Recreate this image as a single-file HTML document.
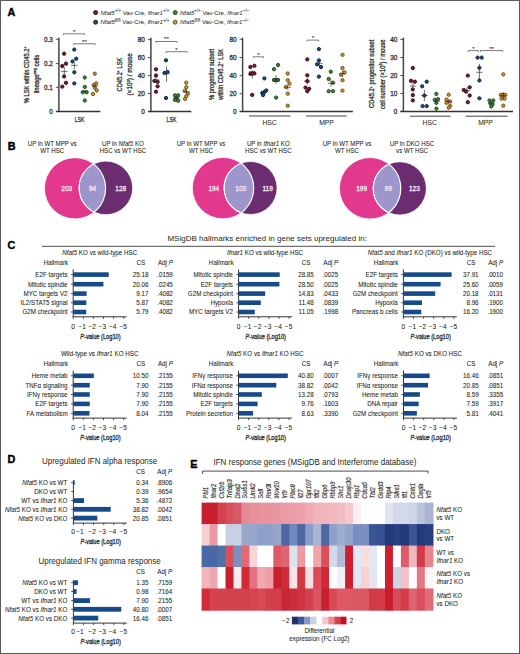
<!DOCTYPE html>
<html><head><meta charset="utf-8"><style>
html,body{margin:0;padding:0;background:#fff;}
svg{display:block;font-family:"Liberation Sans", sans-serif;}
text{stroke:#231f20;stroke-width:.06px;}
text.a{stroke:#333;stroke-width:.3px;}
text.w{stroke:none;}
text.p{stroke:#000;stroke-width:.4px;}
</style></head><body>
<svg width="520" height="654" viewBox="0 0 520 654">
<rect x="0.5" y="0.5" width="519" height="653" fill="#fff" stroke="#5a5a5a" stroke-width="1"/>
<text x="7.60" y="15.80" font-size="10.8" text-anchor="start" fill="#000" font-weight="bold" class="p">A</text>
<text x="7.80" y="149.60" font-size="10.8" text-anchor="start" fill="#000" font-weight="bold" class="p">B</text>
<text x="7.60" y="248.50" font-size="10.8" text-anchor="start" fill="#000" font-weight="bold" class="p">C</text>
<text x="7.60" y="462.90" font-size="10.8" text-anchor="start" fill="#000" font-weight="bold" class="p">D</text>
<text x="190.20" y="468.00" font-size="10.8" text-anchor="start" fill="#000" font-weight="bold" class="p">E</text>
<circle cx="95.6" cy="12.6" r="2.0" fill="#7d1a2c" stroke="#3a0812" stroke-width="0.95"/>
<text x="100.4" y="14.7" font-size="6.2" fill="#333" textLength="69" lengthAdjust="spacingAndGlyphs"><tspan font-style="italic">Nfat5</tspan><tspan font-size="4.6" dy="-2.5">+/+</tspan><tspan dy="2.5"> Vav-Cre, </tspan><tspan font-style="italic">Ifnar1</tspan><tspan font-size="4.6" dy="-2.5">+/+</tspan></text>
<circle cx="95.6" cy="22.2" r="2.0" fill="#1b4c80" stroke="#0b2440" stroke-width="0.95"/>
<text x="100.4" y="24.3" font-size="6.2" fill="#333" textLength="69" lengthAdjust="spacingAndGlyphs"><tspan font-style="italic">Nfat5</tspan><tspan font-size="4.6" dy="-2.5">fl/fl</tspan><tspan dy="2.5"> Vav-Cre, </tspan><tspan font-style="italic">Ifnar1</tspan><tspan font-size="4.6" dy="-2.5">+/+</tspan></text>
<circle cx="175.2" cy="12.6" r="2.0" fill="#3f8a3b" stroke="#1c451a" stroke-width="0.95"/>
<text x="180.0" y="14.7" font-size="6.2" fill="#333" textLength="69" lengthAdjust="spacingAndGlyphs"><tspan font-style="italic">Nfat5</tspan><tspan font-size="4.6" dy="-2.5">+/+</tspan><tspan dy="2.5"> Vav-Cre, </tspan><tspan font-style="italic">Ifnar1</tspan><tspan font-size="4.6" dy="-2.5">−/−</tspan></text>
<circle cx="175.2" cy="22.2" r="2.0" fill="#d09535" stroke="#6e4a12" stroke-width="0.95"/>
<text x="180.0" y="24.3" font-size="6.2" fill="#333" textLength="69" lengthAdjust="spacingAndGlyphs"><tspan font-style="italic">Nfat5</tspan><tspan font-size="4.6" dy="-2.5">fl/fl</tspan><tspan dy="2.5"> Vav-Cre, </tspan><tspan font-style="italic">Ifnar1</tspan><tspan font-size="4.6" dy="-2.5">−/−</tspan></text>
<line x1="58.9" y1="37.7" x2="58.9" y2="112.0" stroke="#444" stroke-width="1.5"/>
<line x1="55.9" y1="39.2" x2="58.9" y2="39.2" stroke="#3a3a3a" stroke-width="0.9"/>
<text x="52.90" y="41.50" font-size="6.4" text-anchor="end" fill="#333" class="a">0.3</text>
<line x1="55.9" y1="63.6" x2="58.9" y2="63.6" stroke="#3a3a3a" stroke-width="0.9"/>
<text x="52.90" y="65.90" font-size="6.4" text-anchor="end" fill="#333" class="a">0.2</text>
<line x1="55.9" y1="87.3" x2="58.9" y2="87.3" stroke="#3a3a3a" stroke-width="0.9"/>
<text x="52.90" y="89.60" font-size="6.4" text-anchor="end" fill="#333" class="a">0.1</text>
<line x1="55.9" y1="111.5" x2="58.9" y2="111.5" stroke="#3a3a3a" stroke-width="0.9"/>
<text x="52.90" y="113.80" font-size="6.4" text-anchor="end" fill="#333" class="a">0</text>
<line x1="56" y1="111.5" x2="100.4" y2="111.5" stroke="#333" stroke-width="1.3"/>
<text x="79.60" y="121.90" font-size="7.8" text-anchor="middle" fill="#231f20" textLength="9.80" lengthAdjust="spacingAndGlyphs" class="a">LSK</text>
<text transform="translate(28.6,74.8) rotate(-90)" font-size="7" class="a" text-anchor="middle" fill="#231f20" textLength="56.8" lengthAdjust="spacingAndGlyphs">% LSK within CD45.2<tspan font-size="4.4" dy="-2.6">+</tspan></text>
<text transform="translate(38.6,74.0) rotate(-90)" font-size="7" class="a" text-anchor="middle" fill="#231f20" textLength="38.5" lengthAdjust="spacingAndGlyphs">lineage<tspan font-size="4.4" dy="-2.6">neg</tspan><tspan dy="2.6"> cells</tspan></text>
<circle cx="64.1" cy="53.7" r="1.65" fill="#7d1a2c" stroke="#3a0812" stroke-width="0.95"/>
<circle cx="66.0" cy="63.6" r="1.65" fill="#7d1a2c" stroke="#3a0812" stroke-width="0.95"/>
<circle cx="62.3" cy="66.0" r="1.65" fill="#7d1a2c" stroke="#3a0812" stroke-width="0.95"/>
<circle cx="64.1" cy="76.4" r="1.65" fill="#7d1a2c" stroke="#3a0812" stroke-width="0.95"/>
<circle cx="66.0" cy="82.8" r="1.65" fill="#7d1a2c" stroke="#3a0812" stroke-width="0.95"/>
<circle cx="62.3" cy="86.6" r="1.65" fill="#7d1a2c" stroke="#3a0812" stroke-width="0.95"/>
<line x1="61.099999999999994" y1="71.6" x2="67.5" y2="71.6" stroke="#333" stroke-width="0.7"/>
<line x1="64.3" y1="67.3" x2="64.3" y2="75.9" stroke="#333" stroke-width="0.7"/>
<circle cx="74.3" cy="49.6" r="1.65" fill="#1b4c80" stroke="#0b2440" stroke-width="0.95"/>
<circle cx="76.2" cy="58.7" r="1.65" fill="#1b4c80" stroke="#0b2440" stroke-width="0.95"/>
<circle cx="72.5" cy="61.4" r="1.65" fill="#1b4c80" stroke="#0b2440" stroke-width="0.95"/>
<circle cx="74.3" cy="72.3" r="1.65" fill="#1b4c80" stroke="#0b2440" stroke-width="0.95"/>
<circle cx="74.3" cy="83.4" r="1.65" fill="#1b4c80" stroke="#0b2440" stroke-width="0.95"/>
<line x1="71.1" y1="65.4" x2="77.5" y2="65.4" stroke="#333" stroke-width="0.7"/>
<line x1="74.3" y1="62.5" x2="74.3" y2="69.4" stroke="#333" stroke-width="0.7"/>
<circle cx="84.8" cy="77.5" r="1.65" fill="#3f8a3b" stroke="#1c451a" stroke-width="0.95"/>
<circle cx="84.8" cy="86.9" r="1.65" fill="#3f8a3b" stroke="#1c451a" stroke-width="0.95"/>
<circle cx="82.8" cy="92.2" r="1.65" fill="#3f8a3b" stroke="#1c451a" stroke-width="0.95"/>
<circle cx="86.6" cy="92.2" r="1.65" fill="#3f8a3b" stroke="#1c451a" stroke-width="0.95"/>
<circle cx="84.8" cy="100.5" r="1.65" fill="#3f8a3b" stroke="#1c451a" stroke-width="0.95"/>
<line x1="81.6" y1="91.4" x2="88.0" y2="91.4" stroke="#333" stroke-width="0.7"/>
<line x1="84.8" y1="89.5" x2="84.8" y2="93.5" stroke="#333" stroke-width="0.7"/>
<circle cx="94.8" cy="73.7" r="1.65" fill="#d09535" stroke="#6e4a12" stroke-width="0.95"/>
<circle cx="96.2" cy="83.4" r="1.65" fill="#d09535" stroke="#6e4a12" stroke-width="0.95"/>
<circle cx="93.8" cy="85.0" r="1.65" fill="#d09535" stroke="#6e4a12" stroke-width="0.95"/>
<circle cx="94.8" cy="87.6" r="1.65" fill="#d09535" stroke="#6e4a12" stroke-width="0.95"/>
<circle cx="96.8" cy="90.5" r="1.65" fill="#d09535" stroke="#6e4a12" stroke-width="0.95"/>
<circle cx="93.0" cy="94.1" r="1.65" fill="#d09535" stroke="#6e4a12" stroke-width="0.95"/>
<line x1="91.8" y1="86" x2="98.2" y2="86" stroke="#333" stroke-width="0.7"/>
<line x1="95" y1="84" x2="95" y2="88" stroke="#333" stroke-width="0.7"/>
<path d="M63.5 35.099999999999994 V33.8 H84.6 V35.099999999999994" fill="none" stroke="#444" stroke-width="0.7"/>
<text x="74.05" y="33.70" font-size="6" text-anchor="middle" fill="#333" >*</text>
<path d="M73.7 45.099999999999994 V43.8 H95.2 V45.099999999999994" fill="none" stroke="#444" stroke-width="0.7"/>
<text x="84.45" y="43.70" font-size="6" text-anchor="middle" fill="#333" >**</text>
<line x1="150.9" y1="37.7" x2="150.9" y2="112.0" stroke="#444" stroke-width="1.5"/>
<line x1="147.9" y1="39.6" x2="150.9" y2="39.6" stroke="#3a3a3a" stroke-width="0.9"/>
<text x="144.90" y="41.90" font-size="6.4" text-anchor="end" fill="#333" class="a">80</text>
<line x1="147.9" y1="57.5" x2="150.9" y2="57.5" stroke="#3a3a3a" stroke-width="0.9"/>
<text x="144.90" y="59.80" font-size="6.4" text-anchor="end" fill="#333" class="a">60</text>
<line x1="147.9" y1="75.6" x2="150.9" y2="75.6" stroke="#3a3a3a" stroke-width="0.9"/>
<text x="144.90" y="77.90" font-size="6.4" text-anchor="end" fill="#333" class="a">40</text>
<line x1="147.9" y1="93.5" x2="150.9" y2="93.5" stroke="#3a3a3a" stroke-width="0.9"/>
<text x="144.90" y="95.80" font-size="6.4" text-anchor="end" fill="#333" class="a">20</text>
<line x1="147.9" y1="111.5" x2="150.9" y2="111.5" stroke="#3a3a3a" stroke-width="0.9"/>
<text x="144.90" y="113.80" font-size="6.4" text-anchor="end" fill="#333" class="a">0</text>
<line x1="148" y1="111.5" x2="191.3" y2="111.5" stroke="#333" stroke-width="1.3"/>
<text x="171.50" y="121.90" font-size="7.8" text-anchor="middle" fill="#231f20" textLength="9.80" lengthAdjust="spacingAndGlyphs" class="a">LSK</text>
<text transform="translate(122.0,74.6) rotate(-90)" font-size="7" class="a" text-anchor="middle" fill="#231f20" textLength="33.6" lengthAdjust="spacingAndGlyphs">CD45.2<tspan font-size="4.4" dy="-2.6">+</tspan><tspan dy="2.6"> LSK</tspan></text>
<text transform="translate(132.3,74.4) rotate(-90)" font-size="7" class="a" text-anchor="middle" fill="#231f20" textLength="42.3" lengthAdjust="spacingAndGlyphs">(×10<tspan font-size="4.4" dy="-2.6">3</tspan><tspan dy="2.6">) / mouse</tspan></text>
<circle cx="156.0" cy="69.3" r="1.65" fill="#7d1a2c" stroke="#3a0812" stroke-width="0.95"/>
<circle cx="156.0" cy="75.5" r="1.65" fill="#7d1a2c" stroke="#3a0812" stroke-width="0.95"/>
<circle cx="154.4" cy="80.9" r="1.65" fill="#7d1a2c" stroke="#3a0812" stroke-width="0.95"/>
<circle cx="157.6" cy="81.8" r="1.65" fill="#7d1a2c" stroke="#3a0812" stroke-width="0.95"/>
<circle cx="157.6" cy="86.3" r="1.65" fill="#7d1a2c" stroke="#3a0812" stroke-width="0.95"/>
<circle cx="156.0" cy="91.7" r="1.65" fill="#7d1a2c" stroke="#3a0812" stroke-width="0.95"/>
<line x1="153.0" y1="80.04375" x2="159.39999999999998" y2="80.04375" stroke="#333" stroke-width="0.7"/>
<line x1="156.2" y1="76.44874999999999" x2="156.2" y2="83.63875" stroke="#333" stroke-width="0.7"/>
<circle cx="166.0" cy="60.3" r="1.65" fill="#1b4c80" stroke="#0b2440" stroke-width="0.95"/>
<circle cx="167.5" cy="72.0" r="1.65" fill="#1b4c80" stroke="#0b2440" stroke-width="0.95"/>
<circle cx="164.5" cy="72.9" r="1.65" fill="#1b4c80" stroke="#0b2440" stroke-width="0.95"/>
<circle cx="166.0" cy="98.0" r="1.65" fill="#1b4c80" stroke="#0b2440" stroke-width="0.95"/>
<line x1="163.3" y1="73.7525" x2="169.7" y2="73.7525" stroke="#333" stroke-width="0.7"/>
<line x1="166.5" y1="66.5625" x2="166.5" y2="81.84125" stroke="#333" stroke-width="0.7"/>
<circle cx="174.9" cy="95.3" r="1.65" fill="#3f8a3b" stroke="#1c451a" stroke-width="0.95"/>
<circle cx="178.1" cy="95.3" r="1.65" fill="#3f8a3b" stroke="#1c451a" stroke-width="0.95"/>
<circle cx="176.5" cy="98.0" r="1.65" fill="#3f8a3b" stroke="#1c451a" stroke-width="0.95"/>
<circle cx="174.9" cy="99.8" r="1.65" fill="#3f8a3b" stroke="#1c451a" stroke-width="0.95"/>
<circle cx="178.1" cy="100.7" r="1.65" fill="#3f8a3b" stroke="#1c451a" stroke-width="0.95"/>
<line x1="173.3" y1="98.01875" x2="179.7" y2="98.01875" stroke="#333" stroke-width="0.7"/>
<line x1="176.5" y1="96.22125" x2="176.5" y2="99.81625" stroke="#333" stroke-width="0.7"/>
<circle cx="186.3" cy="82.7" r="1.65" fill="#d09535" stroke="#6e4a12" stroke-width="0.95"/>
<circle cx="186.3" cy="87.2" r="1.65" fill="#d09535" stroke="#6e4a12" stroke-width="0.95"/>
<circle cx="184.7" cy="90.8" r="1.65" fill="#d09535" stroke="#6e4a12" stroke-width="0.95"/>
<circle cx="187.9" cy="93.5" r="1.65" fill="#d09535" stroke="#6e4a12" stroke-width="0.95"/>
<circle cx="186.3" cy="96.2" r="1.65" fill="#d09535" stroke="#6e4a12" stroke-width="0.95"/>
<circle cx="185.1" cy="98.9" r="1.65" fill="#d09535" stroke="#6e4a12" stroke-width="0.95"/>
<line x1="183.10000000000002" y1="91.72749999999999" x2="189.5" y2="91.72749999999999" stroke="#333" stroke-width="0.7"/>
<line x1="186.3" y1="89.03125" x2="186.3" y2="94.42375" stroke="#333" stroke-width="0.7"/>
<path d="M155.8 42.8 V41.5 H177 V42.8" fill="none" stroke="#444" stroke-width="0.7"/>
<text x="166.40" y="41.40" font-size="6" text-anchor="middle" fill="#333" >**</text>
<path d="M166 53.0 V51.7 H187 V53.0" fill="none" stroke="#444" stroke-width="0.7"/>
<text x="176.50" y="51.60" font-size="6" text-anchor="middle" fill="#333" >*</text>
<line x1="242.6" y1="37.7" x2="242.6" y2="112.0" stroke="#444" stroke-width="1.5"/>
<line x1="239.6" y1="39.2" x2="242.6" y2="39.2" stroke="#3a3a3a" stroke-width="0.9"/>
<text x="236.60" y="41.50" font-size="6.4" text-anchor="end" fill="#333" class="a">80</text>
<line x1="239.6" y1="57.5" x2="242.6" y2="57.5" stroke="#3a3a3a" stroke-width="0.9"/>
<text x="236.60" y="59.80" font-size="6.4" text-anchor="end" fill="#333" class="a">60</text>
<line x1="239.6" y1="75.6" x2="242.6" y2="75.6" stroke="#3a3a3a" stroke-width="0.9"/>
<text x="236.60" y="77.90" font-size="6.4" text-anchor="end" fill="#333" class="a">40</text>
<line x1="239.6" y1="93.7" x2="242.6" y2="93.7" stroke="#3a3a3a" stroke-width="0.9"/>
<text x="236.60" y="96.00" font-size="6.4" text-anchor="end" fill="#333" class="a">20</text>
<line x1="239.6" y1="111.5" x2="242.6" y2="111.5" stroke="#3a3a3a" stroke-width="0.9"/>
<text x="236.60" y="113.80" font-size="6.4" text-anchor="end" fill="#333" class="a">0</text>
<line x1="239.7" y1="111.5" x2="352.8" y2="111.5" stroke="#333" stroke-width="1.3"/>
<line x1="249" y1="116" x2="290.4" y2="116" stroke="#444" stroke-width="1.0"/>
<line x1="306" y1="116" x2="346.7" y2="116" stroke="#444" stroke-width="1.0"/>
<text x="269.60" y="125.20" font-size="6.8" text-anchor="middle" fill="#333" >HSC</text>
<text x="326.50" y="125.20" font-size="6.8" text-anchor="middle" fill="#333" >MPP</text>
<text transform="translate(213.8,74.5) rotate(-90)" font-size="7" class="a" text-anchor="middle" fill="#231f20" textLength="51" lengthAdjust="spacingAndGlyphs">% progenitor subset</text>
<text transform="translate(223.0,74.3) rotate(-90)" font-size="7" class="a" text-anchor="middle" fill="#231f20" textLength="50.9" lengthAdjust="spacingAndGlyphs">within CD45.2<tspan font-size="4.4" dy="-2.6">+</tspan><tspan dy="2.6"> LSK</tspan></text>
<circle cx="250.4" cy="67.0" r="1.65" fill="#7d1a2c" stroke="#3a0812" stroke-width="0.95"/>
<circle cx="254.4" cy="65.8" r="1.65" fill="#7d1a2c" stroke="#3a0812" stroke-width="0.95"/>
<circle cx="250.4" cy="73.9" r="1.65" fill="#7d1a2c" stroke="#3a0812" stroke-width="0.95"/>
<circle cx="252.2" cy="73.5" r="1.65" fill="#7d1a2c" stroke="#3a0812" stroke-width="0.95"/>
<circle cx="254.4" cy="73.5" r="1.65" fill="#7d1a2c" stroke="#3a0812" stroke-width="0.95"/>
<circle cx="252.2" cy="94.9" r="1.65" fill="#7d1a2c" stroke="#3a0812" stroke-width="0.95"/>
<line x1="249.10000000000002" y1="71.7" x2="255.5" y2="71.7" stroke="#333" stroke-width="0.7"/>
<line x1="252.3" y1="70.5" x2="252.3" y2="78.4" stroke="#333" stroke-width="0.7"/>
<circle cx="264.4" cy="78.4" r="1.65" fill="#1b4c80" stroke="#0b2440" stroke-width="0.95"/>
<circle cx="262.3" cy="93.0" r="1.65" fill="#1b4c80" stroke="#0b2440" stroke-width="0.95"/>
<circle cx="264.5" cy="92.0" r="1.65" fill="#1b4c80" stroke="#0b2440" stroke-width="0.95"/>
<circle cx="266.3" cy="90.5" r="1.65" fill="#1b4c80" stroke="#0b2440" stroke-width="0.95"/>
<circle cx="263.0" cy="95.0" r="1.65" fill="#1b4c80" stroke="#0b2440" stroke-width="0.95"/>
<line x1="261.1" y1="91.5" x2="267.5" y2="91.5" stroke="#333" stroke-width="0.7"/>
<line x1="264.3" y1="89.5" x2="264.3" y2="94" stroke="#333" stroke-width="0.7"/>
<circle cx="274.0" cy="69.2" r="1.65" fill="#3f8a3b" stroke="#1c451a" stroke-width="0.95"/>
<circle cx="278.1" cy="65.0" r="1.65" fill="#3f8a3b" stroke="#1c451a" stroke-width="0.95"/>
<circle cx="274.0" cy="80.0" r="1.65" fill="#3f8a3b" stroke="#1c451a" stroke-width="0.95"/>
<circle cx="276.0" cy="80.0" r="1.65" fill="#3f8a3b" stroke="#1c451a" stroke-width="0.95"/>
<circle cx="278.0" cy="80.0" r="1.65" fill="#3f8a3b" stroke="#1c451a" stroke-width="0.95"/>
<circle cx="276.1" cy="97.6" r="1.65" fill="#3f8a3b" stroke="#1c451a" stroke-width="0.95"/>
<line x1="272.8" y1="80" x2="279.2" y2="80" stroke="#333" stroke-width="0.7"/>
<line x1="276" y1="75" x2="276" y2="84" stroke="#333" stroke-width="0.7"/>
<circle cx="287.7" cy="73.5" r="1.65" fill="#d09535" stroke="#6e4a12" stroke-width="0.95"/>
<circle cx="287.7" cy="80.2" r="1.65" fill="#d09535" stroke="#6e4a12" stroke-width="0.95"/>
<circle cx="289.5" cy="83.7" r="1.65" fill="#d09535" stroke="#6e4a12" stroke-width="0.95"/>
<circle cx="285.8" cy="87.0" r="1.65" fill="#d09535" stroke="#6e4a12" stroke-width="0.95"/>
<circle cx="287.7" cy="93.7" r="1.65" fill="#d09535" stroke="#6e4a12" stroke-width="0.95"/>
<circle cx="287.7" cy="105.7" r="1.65" fill="#d09535" stroke="#6e4a12" stroke-width="0.95"/>
<line x1="284.6" y1="87.3" x2="291.0" y2="87.3" stroke="#333" stroke-width="0.7"/>
<line x1="287.8" y1="85" x2="287.8" y2="90" stroke="#333" stroke-width="0.7"/>
<path d="M253.2 58.099999999999994 V56.8 H263.5 V58.099999999999994" fill="none" stroke="#444" stroke-width="0.7"/>
<text x="258.35" y="56.70" font-size="6" text-anchor="middle" fill="#333" >*</text>
<circle cx="307.3" cy="59.4" r="1.65" fill="#7d1a2c" stroke="#3a0812" stroke-width="0.95"/>
<circle cx="307.3" cy="75.3" r="1.65" fill="#7d1a2c" stroke="#3a0812" stroke-width="0.95"/>
<circle cx="307.3" cy="81.2" r="1.65" fill="#7d1a2c" stroke="#3a0812" stroke-width="0.95"/>
<circle cx="305.5" cy="87.6" r="1.65" fill="#7d1a2c" stroke="#3a0812" stroke-width="0.95"/>
<circle cx="309.2" cy="88.8" r="1.65" fill="#7d1a2c" stroke="#3a0812" stroke-width="0.95"/>
<circle cx="307.3" cy="91.2" r="1.65" fill="#7d1a2c" stroke="#3a0812" stroke-width="0.95"/>
<line x1="304.1" y1="81.2" x2="310.5" y2="81.2" stroke="#333" stroke-width="0.7"/>
<line x1="307.3" y1="78" x2="307.3" y2="84.5" stroke="#333" stroke-width="0.7"/>
<circle cx="318.9" cy="49.1" r="1.65" fill="#1b4c80" stroke="#0b2440" stroke-width="0.95"/>
<circle cx="318.9" cy="60.4" r="1.65" fill="#1b4c80" stroke="#0b2440" stroke-width="0.95"/>
<circle cx="317.1" cy="64.3" r="1.65" fill="#1b4c80" stroke="#0b2440" stroke-width="0.95"/>
<circle cx="321.0" cy="67.0" r="1.65" fill="#1b4c80" stroke="#0b2440" stroke-width="0.95"/>
<circle cx="318.9" cy="76.6" r="1.65" fill="#1b4c80" stroke="#0b2440" stroke-width="0.95"/>
<line x1="316.3" y1="63.4" x2="322.7" y2="63.4" stroke="#333" stroke-width="0.7"/>
<line x1="319.5" y1="60" x2="319.5" y2="66.5" stroke="#333" stroke-width="0.7"/>
<circle cx="330.8" cy="71.7" r="1.65" fill="#3f8a3b" stroke="#1c451a" stroke-width="0.95"/>
<circle cx="328.7" cy="79.0" r="1.65" fill="#3f8a3b" stroke="#1c451a" stroke-width="0.95"/>
<circle cx="333.0" cy="82.7" r="1.65" fill="#3f8a3b" stroke="#1c451a" stroke-width="0.95"/>
<circle cx="328.7" cy="91.2" r="1.65" fill="#3f8a3b" stroke="#1c451a" stroke-width="0.95"/>
<circle cx="333.0" cy="91.2" r="1.65" fill="#3f8a3b" stroke="#1c451a" stroke-width="0.95"/>
<line x1="327.8" y1="83.3" x2="334.2" y2="83.3" stroke="#333" stroke-width="0.7"/>
<line x1="331" y1="80" x2="331" y2="86.5" stroke="#333" stroke-width="0.7"/>
<circle cx="342.5" cy="54.8" r="1.65" fill="#d09535" stroke="#6e4a12" stroke-width="0.95"/>
<circle cx="342.5" cy="68.0" r="1.65" fill="#d09535" stroke="#6e4a12" stroke-width="0.95"/>
<circle cx="341.0" cy="74.7" r="1.65" fill="#d09535" stroke="#6e4a12" stroke-width="0.95"/>
<circle cx="344.6" cy="72.3" r="1.65" fill="#d09535" stroke="#6e4a12" stroke-width="0.95"/>
<circle cx="342.5" cy="80.2" r="1.65" fill="#d09535" stroke="#6e4a12" stroke-width="0.95"/>
<circle cx="342.5" cy="90.6" r="1.65" fill="#d09535" stroke="#6e4a12" stroke-width="0.95"/>
<line x1="339.5" y1="73.9" x2="345.9" y2="73.9" stroke="#333" stroke-width="0.7"/>
<line x1="342.7" y1="70.5" x2="342.7" y2="77" stroke="#333" stroke-width="0.7"/>
<path d="M307.1 41.4 V40.1 H318.6 V41.4" fill="none" stroke="#444" stroke-width="0.7"/>
<text x="312.85" y="40.00" font-size="6" text-anchor="middle" fill="#333" >*</text>
<line x1="403.4" y1="37.7" x2="403.4" y2="112.0" stroke="#444" stroke-width="1.5"/>
<line x1="400.4" y1="39.4" x2="403.4" y2="39.4" stroke="#3a3a3a" stroke-width="0.9"/>
<text x="397.40" y="41.70" font-size="6.4" text-anchor="end" fill="#333" class="a">40</text>
<line x1="400.4" y1="57.5" x2="403.4" y2="57.5" stroke="#3a3a3a" stroke-width="0.9"/>
<text x="397.40" y="59.80" font-size="6.4" text-anchor="end" fill="#333" class="a">30</text>
<line x1="400.4" y1="75.5" x2="403.4" y2="75.5" stroke="#3a3a3a" stroke-width="0.9"/>
<text x="397.40" y="77.80" font-size="6.4" text-anchor="end" fill="#333" class="a">20</text>
<line x1="400.4" y1="93.5" x2="403.4" y2="93.5" stroke="#3a3a3a" stroke-width="0.9"/>
<text x="397.40" y="95.80" font-size="6.4" text-anchor="end" fill="#333" class="a">10</text>
<line x1="400.4" y1="111.3" x2="403.4" y2="111.3" stroke="#3a3a3a" stroke-width="0.9"/>
<text x="397.40" y="113.60" font-size="6.4" text-anchor="end" fill="#333" class="a">0</text>
<line x1="400.4" y1="111.5" x2="513" y2="111.5" stroke="#333" stroke-width="1.3"/>
<line x1="410" y1="116.2" x2="450.5" y2="116.2" stroke="#444" stroke-width="1.0"/>
<line x1="465.6" y1="116.2" x2="507.7" y2="116.2" stroke="#444" stroke-width="1.0"/>
<text x="429.80" y="125.20" font-size="6.8" text-anchor="middle" fill="#333" >HSC</text>
<text x="485.50" y="125.20" font-size="6.8" text-anchor="middle" fill="#333" >MPP</text>
<text transform="translate(374.4,73.8) rotate(-90)" font-size="7" class="a" text-anchor="middle" fill="#231f20" textLength="68.4" lengthAdjust="spacingAndGlyphs">CD45.2<tspan font-size="4.4" dy="-2.6">+</tspan><tspan dy="2.6"> progenitor subset</tspan></text>
<text transform="translate(384.8,74.2) rotate(-90)" font-size="7" class="a" text-anchor="middle" fill="#231f20" textLength="69.6" lengthAdjust="spacingAndGlyphs">cell number (×10<tspan font-size="4.4" dy="-2.6">3</tspan><tspan dy="2.6">) / mouse</tspan></text>
<circle cx="412.8" cy="68.0" r="1.65" fill="#7d1a2c" stroke="#3a0812" stroke-width="0.95"/>
<circle cx="411.0" cy="80.8" r="1.65" fill="#7d1a2c" stroke="#3a0812" stroke-width="0.95"/>
<circle cx="414.9" cy="81.7" r="1.65" fill="#7d1a2c" stroke="#3a0812" stroke-width="0.95"/>
<circle cx="412.8" cy="89.4" r="1.65" fill="#7d1a2c" stroke="#3a0812" stroke-width="0.95"/>
<circle cx="412.8" cy="95.1" r="1.65" fill="#7d1a2c" stroke="#3a0812" stroke-width="0.95"/>
<circle cx="412.8" cy="100.4" r="1.65" fill="#7d1a2c" stroke="#3a0812" stroke-width="0.95"/>
<line x1="409.6" y1="86.1" x2="416.0" y2="86.1" stroke="#333" stroke-width="0.7"/>
<line x1="412.8" y1="83" x2="412.8" y2="89" stroke="#333" stroke-width="0.7"/>
<circle cx="426.7" cy="81.7" r="1.65" fill="#1b4c80" stroke="#0b2440" stroke-width="0.95"/>
<circle cx="422.2" cy="86.3" r="1.65" fill="#1b4c80" stroke="#0b2440" stroke-width="0.95"/>
<circle cx="424.4" cy="95.5" r="1.65" fill="#1b4c80" stroke="#0b2440" stroke-width="0.95"/>
<circle cx="422.6" cy="106.1" r="1.65" fill="#1b4c80" stroke="#0b2440" stroke-width="0.95"/>
<circle cx="426.7" cy="106.1" r="1.65" fill="#1b4c80" stroke="#0b2440" stroke-width="0.95"/>
<line x1="421.2" y1="95.5" x2="427.59999999999997" y2="95.5" stroke="#333" stroke-width="0.7"/>
<line x1="424.4" y1="90" x2="424.4" y2="101" stroke="#333" stroke-width="0.7"/>
<circle cx="436.4" cy="93.9" r="1.65" fill="#3f8a3b" stroke="#1c451a" stroke-width="0.95"/>
<circle cx="434.8" cy="99.8" r="1.65" fill="#3f8a3b" stroke="#1c451a" stroke-width="0.95"/>
<circle cx="438.1" cy="99.2" r="1.65" fill="#3f8a3b" stroke="#1c451a" stroke-width="0.95"/>
<circle cx="436.4" cy="102.8" r="1.65" fill="#3f8a3b" stroke="#1c451a" stroke-width="0.95"/>
<circle cx="436.4" cy="108.6" r="1.65" fill="#3f8a3b" stroke="#1c451a" stroke-width="0.95"/>
<line x1="433.2" y1="101" x2="439.59999999999997" y2="101" stroke="#333" stroke-width="0.7"/>
<line x1="436.4" y1="99" x2="436.4" y2="103" stroke="#333" stroke-width="0.7"/>
<circle cx="448.7" cy="94.7" r="1.65" fill="#d09535" stroke="#6e4a12" stroke-width="0.95"/>
<circle cx="446.5" cy="99.5" r="1.65" fill="#d09535" stroke="#6e4a12" stroke-width="0.95"/>
<circle cx="450.1" cy="101.6" r="1.65" fill="#d09535" stroke="#6e4a12" stroke-width="0.95"/>
<circle cx="446.5" cy="102.8" r="1.65" fill="#d09535" stroke="#6e4a12" stroke-width="0.95"/>
<circle cx="450.1" cy="105.9" r="1.65" fill="#d09535" stroke="#6e4a12" stroke-width="0.95"/>
<circle cx="448.7" cy="107.7" r="1.65" fill="#d09535" stroke="#6e4a12" stroke-width="0.95"/>
<line x1="445.3" y1="101.5" x2="451.7" y2="101.5" stroke="#333" stroke-width="0.7"/>
<line x1="448.5" y1="99.5" x2="448.5" y2="103.5" stroke="#333" stroke-width="0.7"/>
<circle cx="467.8" cy="75.6" r="1.65" fill="#7d1a2c" stroke="#3a0812" stroke-width="0.95"/>
<circle cx="469.7" cy="87.3" r="1.65" fill="#7d1a2c" stroke="#3a0812" stroke-width="0.95"/>
<circle cx="463.8" cy="90.0" r="1.65" fill="#7d1a2c" stroke="#3a0812" stroke-width="0.95"/>
<circle cx="466.0" cy="91.5" r="1.65" fill="#7d1a2c" stroke="#3a0812" stroke-width="0.95"/>
<circle cx="469.7" cy="95.5" r="1.65" fill="#7d1a2c" stroke="#3a0812" stroke-width="0.95"/>
<circle cx="467.8" cy="102.2" r="1.65" fill="#7d1a2c" stroke="#3a0812" stroke-width="0.95"/>
<line x1="463.8" y1="90.6" x2="470.2" y2="90.6" stroke="#333" stroke-width="0.7"/>
<line x1="467" y1="87.5" x2="467" y2="93.5" stroke="#333" stroke-width="0.7"/>
<circle cx="477.6" cy="57.6" r="1.65" fill="#1b4c80" stroke="#0b2440" stroke-width="0.95"/>
<circle cx="481.7" cy="57.6" r="1.65" fill="#1b4c80" stroke="#0b2440" stroke-width="0.95"/>
<circle cx="479.4" cy="67.8" r="1.65" fill="#1b4c80" stroke="#0b2440" stroke-width="0.95"/>
<circle cx="479.4" cy="80.5" r="1.65" fill="#1b4c80" stroke="#0b2440" stroke-width="0.95"/>
<circle cx="479.4" cy="98.3" r="1.65" fill="#1b4c80" stroke="#0b2440" stroke-width="0.95"/>
<line x1="476.2" y1="72.3" x2="482.59999999999997" y2="72.3" stroke="#333" stroke-width="0.7"/>
<line x1="479.4" y1="64" x2="479.4" y2="80" stroke="#333" stroke-width="0.7"/>
<circle cx="489.5" cy="100.5" r="1.65" fill="#3f8a3b" stroke="#1c451a" stroke-width="0.95"/>
<circle cx="493.3" cy="100.5" r="1.65" fill="#3f8a3b" stroke="#1c451a" stroke-width="0.95"/>
<circle cx="490.5" cy="103.5" r="1.65" fill="#3f8a3b" stroke="#1c451a" stroke-width="0.95"/>
<circle cx="492.5" cy="104.2" r="1.65" fill="#3f8a3b" stroke="#1c451a" stroke-width="0.95"/>
<circle cx="491.3" cy="106.5" r="1.65" fill="#3f8a3b" stroke="#1c451a" stroke-width="0.95"/>
<line x1="488.1" y1="103" x2="494.5" y2="103" stroke="#333" stroke-width="0.7"/>
<line x1="491.3" y1="101.5" x2="491.3" y2="104.5" stroke="#333" stroke-width="0.7"/>
<circle cx="503.3" cy="74.4" r="1.65" fill="#d09535" stroke="#6e4a12" stroke-width="0.95"/>
<circle cx="500.8" cy="94.9" r="1.65" fill="#d09535" stroke="#6e4a12" stroke-width="0.95"/>
<circle cx="503.2" cy="94.9" r="1.65" fill="#d09535" stroke="#6e4a12" stroke-width="0.95"/>
<circle cx="505.3" cy="94.9" r="1.65" fill="#d09535" stroke="#6e4a12" stroke-width="0.95"/>
<circle cx="501.5" cy="98.6" r="1.65" fill="#d09535" stroke="#6e4a12" stroke-width="0.95"/>
<circle cx="504.5" cy="98.6" r="1.65" fill="#d09535" stroke="#6e4a12" stroke-width="0.95"/>
<circle cx="503.3" cy="105.7" r="1.65" fill="#d09535" stroke="#6e4a12" stroke-width="0.95"/>
<line x1="500.1" y1="95.5" x2="506.5" y2="95.5" stroke="#333" stroke-width="0.7"/>
<line x1="503.3" y1="92" x2="503.3" y2="99" stroke="#333" stroke-width="0.7"/>
<path d="M468.2 51.9 V50.6 H478.5 V51.9" fill="none" stroke="#444" stroke-width="0.7"/>
<text x="473.35" y="50.50" font-size="6" text-anchor="middle" fill="#333" >*</text>
<path d="M480.4 51.9 V50.6 H502.7 V51.9" fill="none" stroke="#444" stroke-width="0.7"/>
<text x="491.55" y="50.50" font-size="6" text-anchor="middle" fill="#333" >**</text>
<circle cx="75.0" cy="188.3" r="30.6" fill="#e2388e" stroke="#fff" stroke-width="0.8"/>
<circle cx="105.9" cy="187.9" r="26.8" fill="#6b2d70" stroke="#fff" stroke-width="0.8"/>
<clipPath id="c75"><circle cx="75.0" cy="188.3" r="30.6"/></clipPath>
<circle cx="105.9" cy="187.9" r="26.8" fill="#9c96cc" clip-path="url(#c75)"/>
<circle cx="105.9" cy="187.9" r="26.8" fill="none" stroke="#fff" stroke-width="1.2" clip-path="url(#c75)"/>
<clipPath id="d75"><circle cx="105.9" cy="187.9" r="26.8"/></clipPath>
<circle cx="75.0" cy="188.3" r="30.6" fill="none" stroke="#fff" stroke-width="1.2" clip-path="url(#d75)"/>
<text transform="translate(66.70,190.80) scale(0.93,1)" x="0" y="0" font-size="7" text-anchor="middle" fill="#f5e8f0" style="stroke:#f5e8f0;stroke-width:.3px">203</text>
<text transform="translate(92.50,190.80) scale(0.93,1)" x="0" y="0" font-size="7" text-anchor="middle" fill="#f5e8f0" style="stroke:#f5e8f0;stroke-width:.3px">94</text>
<text transform="translate(120.70,190.80) scale(0.93,1)" x="0" y="0" font-size="7" text-anchor="middle" fill="#f5e8f0" style="stroke:#f5e8f0;stroke-width:.3px">128</text>
<text transform="translate(52.20,146.00) scale(0.93,1)" x="0" y="0" font-size="6.6" text-anchor="middle" fill="#231f20" >UP in WT MPP vs</text>
<text transform="translate(52.20,153.40) scale(0.93,1)" x="0" y="0" font-size="6.6" text-anchor="middle" fill="#231f20" >WT HSC</text>
<text transform="translate(122.90,146.00) scale(0.93,1)" x="0" y="0" font-size="6.6" text-anchor="middle" fill="#231f20" >UP in <tspan font-style="italic">Nfat5</tspan> KO</text>
<text transform="translate(122.90,153.40) scale(0.93,1)" x="0" y="0" font-size="6.6" text-anchor="middle" fill="#231f20" >HSC vs WT HSC</text>
<circle cx="223.0" cy="188.1" r="30.7" fill="#e2388e" stroke="#fff" stroke-width="0.8"/>
<circle cx="250.6" cy="188.0" r="26.5" fill="#6b2d70" stroke="#fff" stroke-width="0.8"/>
<clipPath id="c223"><circle cx="223.0" cy="188.1" r="30.7"/></clipPath>
<circle cx="250.6" cy="188.0" r="26.5" fill="#9c96cc" clip-path="url(#c223)"/>
<circle cx="250.6" cy="188.0" r="26.5" fill="none" stroke="#fff" stroke-width="1.2" clip-path="url(#c223)"/>
<clipPath id="d223"><circle cx="250.6" cy="188.0" r="26.5"/></clipPath>
<circle cx="223.0" cy="188.1" r="30.7" fill="none" stroke="#fff" stroke-width="1.2" clip-path="url(#d223)"/>
<text transform="translate(213.80,190.60) scale(0.93,1)" x="0" y="0" font-size="7" text-anchor="middle" fill="#f5e8f0" style="stroke:#f5e8f0;stroke-width:.3px">194</text>
<text transform="translate(240.70,190.60) scale(0.93,1)" x="0" y="0" font-size="7" text-anchor="middle" fill="#f5e8f0" style="stroke:#f5e8f0;stroke-width:.3px">103</text>
<text transform="translate(267.60,190.60) scale(0.93,1)" x="0" y="0" font-size="7" text-anchor="middle" fill="#f5e8f0" style="stroke:#f5e8f0;stroke-width:.3px">119</text>
<text transform="translate(201.00,146.00) scale(0.93,1)" x="0" y="0" font-size="6.6" text-anchor="middle" fill="#231f20" >UP in WT MPP vs</text>
<text transform="translate(201.00,153.40) scale(0.93,1)" x="0" y="0" font-size="6.6" text-anchor="middle" fill="#231f20" >WT HSC</text>
<text transform="translate(268.30,146.00) scale(0.93,1)" x="0" y="0" font-size="6.6" text-anchor="middle" fill="#231f20" >UP in <tspan font-style="italic">Ifnar1</tspan> KO</text>
<text transform="translate(268.30,153.40) scale(0.93,1)" x="0" y="0" font-size="6.6" text-anchor="middle" fill="#231f20" >HSC vs WT HSC</text>
<circle cx="370.1" cy="188.3" r="30.7" fill="#e2388e" stroke="#fff" stroke-width="0.8"/>
<circle cx="399.8" cy="188.4" r="26.6" fill="#6b2d70" stroke="#fff" stroke-width="0.8"/>
<clipPath id="c370"><circle cx="370.1" cy="188.3" r="30.7"/></clipPath>
<circle cx="399.8" cy="188.4" r="26.6" fill="#9c96cc" clip-path="url(#c370)"/>
<circle cx="399.8" cy="188.4" r="26.6" fill="none" stroke="#fff" stroke-width="1.2" clip-path="url(#c370)"/>
<clipPath id="d370"><circle cx="399.8" cy="188.4" r="26.6"/></clipPath>
<circle cx="370.1" cy="188.3" r="30.7" fill="none" stroke="#fff" stroke-width="1.2" clip-path="url(#d370)"/>
<text transform="translate(361.60,190.80) scale(0.93,1)" x="0" y="0" font-size="7" text-anchor="middle" fill="#f5e8f0" style="stroke:#f5e8f0;stroke-width:.3px">199</text>
<text transform="translate(388.20,190.80) scale(0.93,1)" x="0" y="0" font-size="7" text-anchor="middle" fill="#f5e8f0" style="stroke:#f5e8f0;stroke-width:.3px">99</text>
<text transform="translate(414.40,190.80) scale(0.93,1)" x="0" y="0" font-size="7" text-anchor="middle" fill="#f5e8f0" style="stroke:#f5e8f0;stroke-width:.3px">123</text>
<text transform="translate(347.00,146.00) scale(0.93,1)" x="0" y="0" font-size="6.6" text-anchor="middle" fill="#231f20" >UP in WT MPP vs</text>
<text transform="translate(347.00,153.40) scale(0.93,1)" x="0" y="0" font-size="6.6" text-anchor="middle" fill="#231f20" >WT HSC</text>
<text transform="translate(412.00,146.00) scale(0.93,1)" x="0" y="0" font-size="6.6" text-anchor="middle" fill="#231f20" >UP in DKO HSC</text>
<text transform="translate(412.00,153.40) scale(0.93,1)" x="0" y="0" font-size="6.6" text-anchor="middle" fill="#231f20" >vs WT HSC</text>
<text x="267.20" y="241.00" font-size="8.0" text-anchor="middle" fill="#231f20" textLength="199.50" lengthAdjust="spacingAndGlyphs" class="w">MSigDB hallmarks enriched in gene sets upregulated in:</text>
<line x1="42" y1="246.3" x2="495.2" y2="246.3" stroke="#231f20" stroke-width="0.8"/>
<text transform="translate(99.70,254.70) scale(0.985,1)" x="0" y="0" font-size="6.35" text-anchor="middle" fill="#231f20" ><tspan font-style="italic">Nfat5</tspan> KO vs wild-type HSC</text>
<text transform="translate(55.80,265.00) scale(0.985,1)" x="0" y="0" font-size="6.35" text-anchor="middle" fill="#231f20" >Hallmark</text>
<text transform="translate(140.80,265.00) scale(0.985,1)" x="0" y="0" font-size="6.35" text-anchor="middle" fill="#231f20" >CS</text>
<text transform="translate(165.40,265.00) scale(0.985,1)" x="0" y="0" font-size="6.35" text-anchor="middle" fill="#231f20" >Adj <tspan font-style="italic">P</tspan></text>
<line x1="73.2" y1="269.40000000000003" x2="73.2" y2="316.8" stroke="#231f20" stroke-width="0.9"/>
<line x1="72.75" y1="316.8" x2="126.7" y2="316.8" stroke="#231f20" stroke-width="0.9"/>
<line x1="73.2" y1="316.8" x2="73.2" y2="318.8" stroke="#231f20" stroke-width="0.8"/>
<text transform="translate(73.20,328.70) scale(0.985,1)" x="0" y="0" font-size="6.7" text-anchor="middle" fill="#231f20" >0</text>
<line x1="83.3" y1="316.8" x2="83.3" y2="318.8" stroke="#231f20" stroke-width="0.8"/>
<text transform="translate(82.20,328.70) scale(0.985,1)" x="0" y="0" font-size="6.7" text-anchor="middle" fill="#231f20" >−1</text>
<line x1="93.4" y1="316.8" x2="93.4" y2="318.8" stroke="#231f20" stroke-width="0.8"/>
<text transform="translate(92.20,328.70) scale(0.985,1)" x="0" y="0" font-size="6.7" text-anchor="middle" fill="#231f20" >−2</text>
<line x1="103.5" y1="316.8" x2="103.5" y2="318.8" stroke="#231f20" stroke-width="0.8"/>
<text transform="translate(102.30,328.70) scale(0.985,1)" x="0" y="0" font-size="6.7" text-anchor="middle" fill="#231f20" >−3</text>
<line x1="113.6" y1="316.8" x2="113.6" y2="318.8" stroke="#231f20" stroke-width="0.8"/>
<text transform="translate(112.70,328.70) scale(0.985,1)" x="0" y="0" font-size="6.7" text-anchor="middle" fill="#231f20" >−4</text>
<line x1="123.7" y1="316.8" x2="123.7" y2="318.8" stroke="#231f20" stroke-width="0.8"/>
<text transform="translate(123.20,328.70) scale(0.985,1)" x="0" y="0" font-size="6.7" text-anchor="middle" fill="#231f20" >−5</text>
<text x="100.4" y="339.20000000000005" font-size="6.7" text-anchor="middle" fill="#231f20" class="a" textLength="40.4" lengthAdjust="spacingAndGlyphs"><tspan font-style="italic">P</tspan>-value (Log10)</text>
<line x1="71.0" y1="274.6" x2="73.2" y2="274.6" stroke="#231f20" stroke-width="0.8"/>
<rect x="73.2" y="272.3" width="35.55" height="4.6" fill="#164a88"/>
<text transform="translate(67.60,277.00) scale(0.985,1)" x="0" y="0" font-size="6.35" text-anchor="end" fill="#231f20" >E2F targets</text>
<text transform="translate(148.40,277.00) scale(0.985,1)" x="0" y="0" font-size="6.35" text-anchor="end" fill="#231f20" >25.18</text>
<text transform="translate(157.20,277.00) scale(0.985,1)" x="0" y="0" font-size="6.35" text-anchor="start" fill="#231f20" >.0159</text>
<line x1="71.0" y1="284.2" x2="73.2" y2="284.2" stroke="#231f20" stroke-width="0.8"/>
<rect x="73.2" y="281.9" width="30.20" height="4.6" fill="#164a88"/>
<text transform="translate(67.60,286.60) scale(0.985,1)" x="0" y="0" font-size="6.35" text-anchor="end" fill="#231f20" >Mitotic spindle</text>
<text transform="translate(148.40,286.60) scale(0.985,1)" x="0" y="0" font-size="6.35" text-anchor="end" fill="#231f20" >20.06</text>
<text transform="translate(157.20,286.60) scale(0.985,1)" x="0" y="0" font-size="6.35" text-anchor="start" fill="#231f20" >.0245</text>
<line x1="71.0" y1="293.6" x2="73.2" y2="293.6" stroke="#231f20" stroke-width="0.8"/>
<rect x="73.2" y="291.3" width="13.43" height="4.6" fill="#164a88"/>
<text transform="translate(67.60,296.00) scale(0.985,1)" x="0" y="0" font-size="6.35" text-anchor="end" fill="#231f20" >MYC targets V2</text>
<text transform="translate(148.40,296.00) scale(0.985,1)" x="0" y="0" font-size="6.35" text-anchor="end" fill="#231f20" >9.17</text>
<text transform="translate(157.20,296.00) scale(0.985,1)" x="0" y="0" font-size="6.35" text-anchor="start" fill="#231f20" >.4082</text>
<line x1="71.0" y1="302.7" x2="73.2" y2="302.7" stroke="#231f20" stroke-width="0.8"/>
<rect x="73.2" y="300.4" width="13.13" height="4.6" fill="#164a88"/>
<text transform="translate(67.60,305.10) scale(0.985,1)" x="0" y="0" font-size="6.35" text-anchor="end" fill="#231f20" >IL2/STAT5 signal</text>
<text transform="translate(148.40,305.10) scale(0.985,1)" x="0" y="0" font-size="6.35" text-anchor="end" fill="#231f20" >5.87</text>
<text transform="translate(157.20,305.10) scale(0.985,1)" x="0" y="0" font-size="6.35" text-anchor="start" fill="#231f20" >.4082</text>
<line x1="71.0" y1="312.0" x2="73.2" y2="312.0" stroke="#231f20" stroke-width="0.8"/>
<rect x="73.2" y="309.7" width="13.03" height="4.6" fill="#164a88"/>
<text transform="translate(67.60,314.40) scale(0.985,1)" x="0" y="0" font-size="6.35" text-anchor="end" fill="#231f20" >G2M checkpoint</text>
<text transform="translate(148.40,314.40) scale(0.985,1)" x="0" y="0" font-size="6.35" text-anchor="end" fill="#231f20" >5.79</text>
<text transform="translate(157.20,314.40) scale(0.985,1)" x="0" y="0" font-size="6.35" text-anchor="start" fill="#231f20" >.4082</text>
<text transform="translate(265.10,254.70) scale(0.985,1)" x="0" y="0" font-size="6.35" text-anchor="middle" fill="#231f20" ><tspan font-style="italic">Ifnar1</tspan> KO vs wild-type HSC</text>
<text transform="translate(221.20,265.00) scale(0.985,1)" x="0" y="0" font-size="6.35" text-anchor="middle" fill="#231f20" >Hallmark</text>
<text transform="translate(306.20,265.00) scale(0.985,1)" x="0" y="0" font-size="6.35" text-anchor="middle" fill="#231f20" >CS</text>
<text transform="translate(330.80,265.00) scale(0.985,1)" x="0" y="0" font-size="6.35" text-anchor="middle" fill="#231f20" >Adj <tspan font-style="italic">P</tspan></text>
<line x1="238.6" y1="269.40000000000003" x2="238.6" y2="316.8" stroke="#231f20" stroke-width="0.9"/>
<line x1="238.15" y1="316.8" x2="292.1" y2="316.8" stroke="#231f20" stroke-width="0.9"/>
<line x1="238.6" y1="316.8" x2="238.6" y2="318.8" stroke="#231f20" stroke-width="0.8"/>
<text transform="translate(238.60,328.70) scale(0.985,1)" x="0" y="0" font-size="6.7" text-anchor="middle" fill="#231f20" >0</text>
<line x1="248.7" y1="316.8" x2="248.7" y2="318.8" stroke="#231f20" stroke-width="0.8"/>
<text transform="translate(247.60,328.70) scale(0.985,1)" x="0" y="0" font-size="6.7" text-anchor="middle" fill="#231f20" >−1</text>
<line x1="258.8" y1="316.8" x2="258.8" y2="318.8" stroke="#231f20" stroke-width="0.8"/>
<text transform="translate(257.60,328.70) scale(0.985,1)" x="0" y="0" font-size="6.7" text-anchor="middle" fill="#231f20" >−2</text>
<line x1="268.9" y1="316.8" x2="268.9" y2="318.8" stroke="#231f20" stroke-width="0.8"/>
<text transform="translate(267.70,328.70) scale(0.985,1)" x="0" y="0" font-size="6.7" text-anchor="middle" fill="#231f20" >−3</text>
<line x1="279.0" y1="316.8" x2="279.0" y2="318.8" stroke="#231f20" stroke-width="0.8"/>
<text transform="translate(278.10,328.70) scale(0.985,1)" x="0" y="0" font-size="6.7" text-anchor="middle" fill="#231f20" >−4</text>
<line x1="289.1" y1="316.8" x2="289.1" y2="318.8" stroke="#231f20" stroke-width="0.8"/>
<text transform="translate(288.60,328.70) scale(0.985,1)" x="0" y="0" font-size="6.7" text-anchor="middle" fill="#231f20" >−5</text>
<text x="265.8" y="339.20000000000005" font-size="6.7" text-anchor="middle" fill="#231f20" class="a" textLength="40.4" lengthAdjust="spacingAndGlyphs"><tspan font-style="italic">P</tspan>-value (Log10)</text>
<line x1="236.4" y1="274.6" x2="238.6" y2="274.6" stroke="#231f20" stroke-width="0.8"/>
<rect x="238.6" y="272.3" width="41.11" height="4.6" fill="#164a88"/>
<text transform="translate(233.00,277.00) scale(0.985,1)" x="0" y="0" font-size="6.35" text-anchor="end" fill="#231f20" >Mitotic spindle</text>
<text transform="translate(313.80,277.00) scale(0.985,1)" x="0" y="0" font-size="6.35" text-anchor="end" fill="#231f20" >28.85</text>
<text transform="translate(322.60,277.00) scale(0.985,1)" x="0" y="0" font-size="6.35" text-anchor="start" fill="#231f20" >.0025</text>
<line x1="236.4" y1="284.2" x2="238.6" y2="284.2" stroke="#231f20" stroke-width="0.8"/>
<rect x="238.6" y="281.9" width="40.80" height="4.6" fill="#164a88"/>
<text transform="translate(233.00,286.60) scale(0.985,1)" x="0" y="0" font-size="6.35" text-anchor="end" fill="#231f20" >E2F targets</text>
<text transform="translate(313.80,286.60) scale(0.985,1)" x="0" y="0" font-size="6.35" text-anchor="end" fill="#231f20" >28.50</text>
<text transform="translate(322.60,286.60) scale(0.985,1)" x="0" y="0" font-size="6.35" text-anchor="start" fill="#231f20" >.0025</text>
<line x1="236.4" y1="293.6" x2="238.6" y2="293.6" stroke="#231f20" stroke-width="0.8"/>
<rect x="238.6" y="291.3" width="26.56" height="4.6" fill="#164a88"/>
<text transform="translate(233.00,296.00) scale(0.985,1)" x="0" y="0" font-size="6.35" text-anchor="end" fill="#231f20" >G2M checkpoint</text>
<text transform="translate(313.80,296.00) scale(0.985,1)" x="0" y="0" font-size="6.35" text-anchor="end" fill="#231f20" >14.83</text>
<text transform="translate(322.60,296.00) scale(0.985,1)" x="0" y="0" font-size="6.35" text-anchor="start" fill="#231f20" >.0433</text>
<line x1="236.4" y1="302.7" x2="238.6" y2="302.7" stroke="#231f20" stroke-width="0.8"/>
<rect x="238.6" y="300.4" width="22.22" height="4.6" fill="#164a88"/>
<text transform="translate(233.00,305.10) scale(0.985,1)" x="0" y="0" font-size="6.35" text-anchor="end" fill="#231f20" >Hypoxia</text>
<text transform="translate(313.80,305.10) scale(0.985,1)" x="0" y="0" font-size="6.35" text-anchor="end" fill="#231f20" >11.48</text>
<text transform="translate(322.60,305.10) scale(0.985,1)" x="0" y="0" font-size="6.35" text-anchor="start" fill="#231f20" >.0839</text>
<line x1="236.4" y1="312.0" x2="238.6" y2="312.0" stroke="#231f20" stroke-width="0.8"/>
<rect x="238.6" y="309.7" width="16.16" height="4.6" fill="#164a88"/>
<text transform="translate(233.00,314.40) scale(0.985,1)" x="0" y="0" font-size="6.35" text-anchor="end" fill="#231f20" >MYC targets V2</text>
<text transform="translate(313.80,314.40) scale(0.985,1)" x="0" y="0" font-size="6.35" text-anchor="end" fill="#231f20" >11.05</text>
<text transform="translate(322.60,314.40) scale(0.985,1)" x="0" y="0" font-size="6.35" text-anchor="start" fill="#231f20" >.1998</text>
<text transform="translate(429.90,254.70) scale(0.985,1)" x="0" y="0" font-size="6.35" text-anchor="middle" fill="#231f20" ><tspan font-style="italic">Nfat5</tspan> and <tspan font-style="italic">Ifnar1</tspan> KO (DKO) vs wild-type HSC</text>
<text transform="translate(386.00,265.00) scale(0.985,1)" x="0" y="0" font-size="6.35" text-anchor="middle" fill="#231f20" >Hallmark</text>
<text transform="translate(471.00,265.00) scale(0.985,1)" x="0" y="0" font-size="6.35" text-anchor="middle" fill="#231f20" >CS</text>
<text transform="translate(495.60,265.00) scale(0.985,1)" x="0" y="0" font-size="6.35" text-anchor="middle" fill="#231f20" >Adj <tspan font-style="italic">P</tspan></text>
<line x1="403.4" y1="269.40000000000003" x2="403.4" y2="316.8" stroke="#231f20" stroke-width="0.9"/>
<line x1="402.95" y1="316.8" x2="456.9" y2="316.8" stroke="#231f20" stroke-width="0.9"/>
<line x1="403.4" y1="316.8" x2="403.4" y2="318.8" stroke="#231f20" stroke-width="0.8"/>
<text transform="translate(403.40,328.70) scale(0.985,1)" x="0" y="0" font-size="6.7" text-anchor="middle" fill="#231f20" >0</text>
<line x1="413.5" y1="316.8" x2="413.5" y2="318.8" stroke="#231f20" stroke-width="0.8"/>
<text transform="translate(412.40,328.70) scale(0.985,1)" x="0" y="0" font-size="6.7" text-anchor="middle" fill="#231f20" >−1</text>
<line x1="423.59999999999997" y1="316.8" x2="423.59999999999997" y2="318.8" stroke="#231f20" stroke-width="0.8"/>
<text transform="translate(422.40,328.70) scale(0.985,1)" x="0" y="0" font-size="6.7" text-anchor="middle" fill="#231f20" >−2</text>
<line x1="433.7" y1="316.8" x2="433.7" y2="318.8" stroke="#231f20" stroke-width="0.8"/>
<text transform="translate(432.50,328.70) scale(0.985,1)" x="0" y="0" font-size="6.7" text-anchor="middle" fill="#231f20" >−3</text>
<line x1="443.79999999999995" y1="316.8" x2="443.79999999999995" y2="318.8" stroke="#231f20" stroke-width="0.8"/>
<text transform="translate(442.90,328.70) scale(0.985,1)" x="0" y="0" font-size="6.7" text-anchor="middle" fill="#231f20" >−4</text>
<line x1="453.9" y1="316.8" x2="453.9" y2="318.8" stroke="#231f20" stroke-width="0.8"/>
<text transform="translate(453.40,328.70) scale(0.985,1)" x="0" y="0" font-size="6.7" text-anchor="middle" fill="#231f20" >−5</text>
<text x="430.59999999999997" y="339.20000000000005" font-size="6.7" text-anchor="middle" fill="#231f20" class="a" textLength="40.4" lengthAdjust="spacingAndGlyphs"><tspan font-style="italic">P</tspan>-value (Log10)</text>
<line x1="401.2" y1="274.6" x2="403.4" y2="274.6" stroke="#231f20" stroke-width="0.8"/>
<rect x="403.4" y="272.3" width="48.18" height="4.6" fill="#164a88"/>
<text transform="translate(397.80,277.00) scale(0.985,1)" x="0" y="0" font-size="6.35" text-anchor="end" fill="#231f20" >E2F targets</text>
<text transform="translate(478.60,277.00) scale(0.985,1)" x="0" y="0" font-size="6.35" text-anchor="end" fill="#231f20" >37.91</text>
<text transform="translate(487.40,277.00) scale(0.985,1)" x="0" y="0" font-size="6.35" text-anchor="start" fill="#231f20" >.0010</text>
<line x1="401.2" y1="284.2" x2="403.4" y2="284.2" stroke="#231f20" stroke-width="0.8"/>
<rect x="403.4" y="281.9" width="37.17" height="4.6" fill="#164a88"/>
<text transform="translate(397.80,286.60) scale(0.985,1)" x="0" y="0" font-size="6.35" text-anchor="end" fill="#231f20" >Mitotic spindle</text>
<text transform="translate(478.60,286.60) scale(0.985,1)" x="0" y="0" font-size="6.35" text-anchor="end" fill="#231f20" >25.60</text>
<text transform="translate(487.40,286.60) scale(0.985,1)" x="0" y="0" font-size="6.35" text-anchor="start" fill="#231f20" >.0059</text>
<line x1="401.2" y1="293.6" x2="403.4" y2="293.6" stroke="#231f20" stroke-width="0.8"/>
<rect x="403.4" y="291.3" width="31.81" height="4.6" fill="#164a88"/>
<text transform="translate(397.80,296.00) scale(0.985,1)" x="0" y="0" font-size="6.35" text-anchor="end" fill="#231f20" >G2M checkpoint</text>
<text transform="translate(478.60,296.00) scale(0.985,1)" x="0" y="0" font-size="6.35" text-anchor="end" fill="#231f20" >20.18</text>
<text transform="translate(487.40,296.00) scale(0.985,1)" x="0" y="0" font-size="6.35" text-anchor="start" fill="#231f20" >.0131</text>
<line x1="401.2" y1="302.7" x2="403.4" y2="302.7" stroke="#231f20" stroke-width="0.8"/>
<rect x="403.4" y="300.4" width="18.58" height="4.6" fill="#164a88"/>
<text transform="translate(397.80,305.10) scale(0.985,1)" x="0" y="0" font-size="6.35" text-anchor="end" fill="#231f20" >Hypoxia</text>
<text transform="translate(478.60,305.10) scale(0.985,1)" x="0" y="0" font-size="6.35" text-anchor="end" fill="#231f20" >8.96</text>
<text transform="translate(487.40,305.10) scale(0.985,1)" x="0" y="0" font-size="6.35" text-anchor="start" fill="#231f20" >.1900</text>
<line x1="401.2" y1="312.0" x2="403.4" y2="312.0" stroke="#231f20" stroke-width="0.8"/>
<rect x="403.4" y="309.7" width="17.88" height="4.6" fill="#164a88"/>
<text transform="translate(397.80,314.40) scale(0.985,1)" x="0" y="0" font-size="6.35" text-anchor="end" fill="#231f20" >Pancreas b cells</text>
<text transform="translate(478.60,314.40) scale(0.985,1)" x="0" y="0" font-size="6.35" text-anchor="end" fill="#231f20" >16.20</text>
<text transform="translate(487.40,314.40) scale(0.985,1)" x="0" y="0" font-size="6.35" text-anchor="start" fill="#231f20" >.1900</text>
<text transform="translate(99.70,355.90) scale(0.985,1)" x="0" y="0" font-size="6.35" text-anchor="middle" fill="#231f20" >Wild-type vs <tspan font-style="italic">Ifnar1</tspan> KO HSC</text>
<text transform="translate(55.80,366.20) scale(0.985,1)" x="0" y="0" font-size="6.35" text-anchor="middle" fill="#231f20" >Hallmark</text>
<text transform="translate(140.80,366.20) scale(0.985,1)" x="0" y="0" font-size="6.35" text-anchor="middle" fill="#231f20" >CS</text>
<text transform="translate(165.40,366.20) scale(0.985,1)" x="0" y="0" font-size="6.35" text-anchor="middle" fill="#231f20" >Adj <tspan font-style="italic">P</tspan></text>
<line x1="73.2" y1="370.6" x2="73.2" y2="418.1" stroke="#231f20" stroke-width="0.9"/>
<line x1="72.75" y1="418.1" x2="126.7" y2="418.1" stroke="#231f20" stroke-width="0.9"/>
<line x1="73.2" y1="418.1" x2="73.2" y2="420.1" stroke="#231f20" stroke-width="0.8"/>
<text transform="translate(73.20,429.90) scale(0.985,1)" x="0" y="0" font-size="6.7" text-anchor="middle" fill="#231f20" >0</text>
<line x1="83.3" y1="418.1" x2="83.3" y2="420.1" stroke="#231f20" stroke-width="0.8"/>
<text transform="translate(82.20,429.90) scale(0.985,1)" x="0" y="0" font-size="6.7" text-anchor="middle" fill="#231f20" >−1</text>
<line x1="93.4" y1="418.1" x2="93.4" y2="420.1" stroke="#231f20" stroke-width="0.8"/>
<text transform="translate(92.20,429.90) scale(0.985,1)" x="0" y="0" font-size="6.7" text-anchor="middle" fill="#231f20" >−2</text>
<line x1="103.5" y1="418.1" x2="103.5" y2="420.1" stroke="#231f20" stroke-width="0.8"/>
<text transform="translate(102.30,429.90) scale(0.985,1)" x="0" y="0" font-size="6.7" text-anchor="middle" fill="#231f20" >−3</text>
<line x1="113.6" y1="418.1" x2="113.6" y2="420.1" stroke="#231f20" stroke-width="0.8"/>
<text transform="translate(112.70,429.90) scale(0.985,1)" x="0" y="0" font-size="6.7" text-anchor="middle" fill="#231f20" >−4</text>
<line x1="123.7" y1="418.1" x2="123.7" y2="420.1" stroke="#231f20" stroke-width="0.8"/>
<text transform="translate(123.20,429.90) scale(0.985,1)" x="0" y="0" font-size="6.7" text-anchor="middle" fill="#231f20" >−5</text>
<text x="100.4" y="440.40000000000003" font-size="6.7" text-anchor="middle" fill="#231f20" class="a" textLength="40.4" lengthAdjust="spacingAndGlyphs"><tspan font-style="italic">P</tspan>-value (Log10)</text>
<line x1="71.0" y1="375.8" x2="73.2" y2="375.8" stroke="#231f20" stroke-width="0.8"/>
<rect x="73.2" y="373.5" width="20.60" height="4.6" fill="#164a88"/>
<text transform="translate(67.60,378.20) scale(0.985,1)" x="0" y="0" font-size="6.35" text-anchor="end" fill="#231f20" >Heme metab</text>
<text transform="translate(148.40,378.20) scale(0.985,1)" x="0" y="0" font-size="6.35" text-anchor="end" fill="#231f20" >10.50</text>
<text transform="translate(157.20,378.20) scale(0.985,1)" x="0" y="0" font-size="6.35" text-anchor="start" fill="#231f20" >.2155</text>
<line x1="71.0" y1="385.2" x2="73.2" y2="385.2" stroke="#231f20" stroke-width="0.8"/>
<rect x="73.2" y="382.9" width="16.56" height="4.6" fill="#164a88"/>
<text transform="translate(67.60,387.60) scale(0.985,1)" x="0" y="0" font-size="6.35" text-anchor="end" fill="#231f20" >TNFα signaling</text>
<text transform="translate(148.40,387.60) scale(0.985,1)" x="0" y="0" font-size="6.35" text-anchor="end" fill="#231f20" >7.90</text>
<text transform="translate(157.20,387.60) scale(0.985,1)" x="0" y="0" font-size="6.35" text-anchor="start" fill="#231f20" >.2155</text>
<line x1="71.0" y1="394.5" x2="73.2" y2="394.5" stroke="#231f20" stroke-width="0.8"/>
<rect x="73.2" y="392.2" width="16.56" height="4.6" fill="#164a88"/>
<text transform="translate(67.60,396.90) scale(0.985,1)" x="0" y="0" font-size="6.35" text-anchor="end" fill="#231f20" >IFNγ response</text>
<text transform="translate(148.40,396.90) scale(0.985,1)" x="0" y="0" font-size="6.35" text-anchor="end" fill="#231f20" >7.90</text>
<text transform="translate(157.20,396.90) scale(0.985,1)" x="0" y="0" font-size="6.35" text-anchor="start" fill="#231f20" >.2155</text>
<line x1="71.0" y1="403.9" x2="73.2" y2="403.9" stroke="#231f20" stroke-width="0.8"/>
<rect x="73.2" y="401.59999999999997" width="16.56" height="4.6" fill="#164a88"/>
<text transform="translate(67.60,406.30) scale(0.985,1)" x="0" y="0" font-size="6.35" text-anchor="end" fill="#231f20" >E2F targets</text>
<text transform="translate(148.40,406.30) scale(0.985,1)" x="0" y="0" font-size="6.35" text-anchor="end" fill="#231f20" >7.90</text>
<text transform="translate(157.20,406.30) scale(0.985,1)" x="0" y="0" font-size="6.35" text-anchor="start" fill="#231f20" >.2155</text>
<line x1="71.0" y1="413.3" x2="73.2" y2="413.3" stroke="#231f20" stroke-width="0.8"/>
<rect x="73.2" y="411.0" width="16.26" height="4.6" fill="#164a88"/>
<text transform="translate(67.60,415.70) scale(0.985,1)" x="0" y="0" font-size="6.35" text-anchor="end" fill="#231f20" >FA metabolism</text>
<text transform="translate(148.40,415.70) scale(0.985,1)" x="0" y="0" font-size="6.35" text-anchor="end" fill="#231f20" >8.04</text>
<text transform="translate(157.20,415.70) scale(0.985,1)" x="0" y="0" font-size="6.35" text-anchor="start" fill="#231f20" >.2155</text>
<text transform="translate(265.00,355.90) scale(0.985,1)" x="0" y="0" font-size="6.35" text-anchor="middle" fill="#231f20" ><tspan font-style="italic">Nfat5</tspan> KO vs <tspan font-style="italic">Ifnar1</tspan> KO HSC</text>
<text transform="translate(221.10,366.20) scale(0.985,1)" x="0" y="0" font-size="6.35" text-anchor="middle" fill="#231f20" >Hallmark</text>
<text transform="translate(306.10,366.20) scale(0.985,1)" x="0" y="0" font-size="6.35" text-anchor="middle" fill="#231f20" >CS</text>
<text transform="translate(330.70,366.20) scale(0.985,1)" x="0" y="0" font-size="6.35" text-anchor="middle" fill="#231f20" >Adj <tspan font-style="italic">P</tspan></text>
<line x1="238.5" y1="370.6" x2="238.5" y2="418.1" stroke="#231f20" stroke-width="0.9"/>
<line x1="238.05" y1="418.1" x2="292.0" y2="418.1" stroke="#231f20" stroke-width="0.9"/>
<line x1="238.5" y1="418.1" x2="238.5" y2="420.1" stroke="#231f20" stroke-width="0.8"/>
<text transform="translate(238.50,429.90) scale(0.985,1)" x="0" y="0" font-size="6.7" text-anchor="middle" fill="#231f20" >0</text>
<line x1="248.6" y1="418.1" x2="248.6" y2="420.1" stroke="#231f20" stroke-width="0.8"/>
<text transform="translate(247.50,429.90) scale(0.985,1)" x="0" y="0" font-size="6.7" text-anchor="middle" fill="#231f20" >−1</text>
<line x1="258.7" y1="418.1" x2="258.7" y2="420.1" stroke="#231f20" stroke-width="0.8"/>
<text transform="translate(257.50,429.90) scale(0.985,1)" x="0" y="0" font-size="6.7" text-anchor="middle" fill="#231f20" >−2</text>
<line x1="268.8" y1="418.1" x2="268.8" y2="420.1" stroke="#231f20" stroke-width="0.8"/>
<text transform="translate(267.60,429.90) scale(0.985,1)" x="0" y="0" font-size="6.7" text-anchor="middle" fill="#231f20" >−3</text>
<line x1="278.9" y1="418.1" x2="278.9" y2="420.1" stroke="#231f20" stroke-width="0.8"/>
<text transform="translate(278.00,429.90) scale(0.985,1)" x="0" y="0" font-size="6.7" text-anchor="middle" fill="#231f20" >−4</text>
<line x1="289.0" y1="418.1" x2="289.0" y2="420.1" stroke="#231f20" stroke-width="0.8"/>
<text transform="translate(288.50,429.90) scale(0.985,1)" x="0" y="0" font-size="6.7" text-anchor="middle" fill="#231f20" >−5</text>
<text x="265.7" y="440.40000000000003" font-size="6.7" text-anchor="middle" fill="#231f20" class="a" textLength="40.4" lengthAdjust="spacingAndGlyphs"><tspan font-style="italic">P</tspan>-value (Log10)</text>
<line x1="236.3" y1="375.8" x2="238.5" y2="375.8" stroke="#231f20" stroke-width="0.8"/>
<rect x="238.5" y="373.5" width="49.29" height="4.6" fill="#164a88"/>
<text transform="translate(232.90,378.20) scale(0.985,1)" x="0" y="0" font-size="6.35" text-anchor="end" fill="#231f20" >IFNγ response</text>
<text transform="translate(313.70,378.20) scale(0.985,1)" x="0" y="0" font-size="6.35" text-anchor="end" fill="#231f20" >40.80</text>
<text transform="translate(322.50,378.20) scale(0.985,1)" x="0" y="0" font-size="6.35" text-anchor="start" fill="#231f20" >.0007</text>
<line x1="236.3" y1="385.2" x2="238.5" y2="385.2" stroke="#231f20" stroke-width="0.8"/>
<rect x="238.5" y="382.9" width="37.77" height="4.6" fill="#164a88"/>
<text transform="translate(232.90,387.60) scale(0.985,1)" x="0" y="0" font-size="6.35" text-anchor="end" fill="#231f20" >IFNα response</text>
<text transform="translate(313.70,387.60) scale(0.985,1)" x="0" y="0" font-size="6.35" text-anchor="end" fill="#231f20" >38.82</text>
<text transform="translate(322.50,387.60) scale(0.985,1)" x="0" y="0" font-size="6.35" text-anchor="start" fill="#231f20" >.0042</text>
<line x1="236.3" y1="394.5" x2="238.5" y2="394.5" stroke="#231f20" stroke-width="0.8"/>
<rect x="238.5" y="392.2" width="23.33" height="4.6" fill="#164a88"/>
<text transform="translate(232.90,396.90) scale(0.985,1)" x="0" y="0" font-size="6.35" text-anchor="end" fill="#231f20" >Mitotic spindle</text>
<text transform="translate(313.70,396.90) scale(0.985,1)" x="0" y="0" font-size="6.35" text-anchor="end" fill="#231f20" >13.28</text>
<text transform="translate(322.50,396.90) scale(0.985,1)" x="0" y="0" font-size="6.35" text-anchor="start" fill="#231f20" >.0793</text>
<line x1="236.3" y1="403.9" x2="238.5" y2="403.9" stroke="#231f20" stroke-width="0.8"/>
<rect x="238.5" y="401.59999999999997" width="19.09" height="4.6" fill="#164a88"/>
<text transform="translate(232.90,406.30) scale(0.985,1)" x="0" y="0" font-size="6.35" text-anchor="end" fill="#231f20" >E2F targets</text>
<text transform="translate(313.70,406.30) scale(0.985,1)" x="0" y="0" font-size="6.35" text-anchor="end" fill="#231f20" >9.76</text>
<text transform="translate(322.50,406.30) scale(0.985,1)" x="0" y="0" font-size="6.35" text-anchor="start" fill="#231f20" >.1603</text>
<line x1="236.3" y1="413.3" x2="238.5" y2="413.3" stroke="#231f20" stroke-width="0.8"/>
<rect x="238.5" y="411.0" width="14.54" height="4.6" fill="#164a88"/>
<text transform="translate(232.90,415.70) scale(0.985,1)" x="0" y="0" font-size="6.35" text-anchor="end" fill="#231f20" >Protein secretion</text>
<text transform="translate(313.70,415.70) scale(0.985,1)" x="0" y="0" font-size="6.35" text-anchor="end" fill="#231f20" >8.63</text>
<text transform="translate(322.50,415.70) scale(0.985,1)" x="0" y="0" font-size="6.35" text-anchor="start" fill="#231f20" >.3390</text>
<text transform="translate(430.00,355.90) scale(0.985,1)" x="0" y="0" font-size="6.35" text-anchor="middle" fill="#231f20" ><tspan font-style="italic">Nfat5</tspan> KO vs DKO HSC</text>
<text transform="translate(386.10,366.20) scale(0.985,1)" x="0" y="0" font-size="6.35" text-anchor="middle" fill="#231f20" >Hallmark</text>
<text transform="translate(471.10,366.20) scale(0.985,1)" x="0" y="0" font-size="6.35" text-anchor="middle" fill="#231f20" >CS</text>
<text transform="translate(495.70,366.20) scale(0.985,1)" x="0" y="0" font-size="6.35" text-anchor="middle" fill="#231f20" >Adj <tspan font-style="italic">P</tspan></text>
<line x1="403.5" y1="370.6" x2="403.5" y2="418.1" stroke="#231f20" stroke-width="0.9"/>
<line x1="403.05" y1="418.1" x2="457.0" y2="418.1" stroke="#231f20" stroke-width="0.9"/>
<line x1="403.5" y1="418.1" x2="403.5" y2="420.1" stroke="#231f20" stroke-width="0.8"/>
<text transform="translate(403.50,429.90) scale(0.985,1)" x="0" y="0" font-size="6.7" text-anchor="middle" fill="#231f20" >0</text>
<line x1="413.6" y1="418.1" x2="413.6" y2="420.1" stroke="#231f20" stroke-width="0.8"/>
<text transform="translate(412.50,429.90) scale(0.985,1)" x="0" y="0" font-size="6.7" text-anchor="middle" fill="#231f20" >−1</text>
<line x1="423.7" y1="418.1" x2="423.7" y2="420.1" stroke="#231f20" stroke-width="0.8"/>
<text transform="translate(422.50,429.90) scale(0.985,1)" x="0" y="0" font-size="6.7" text-anchor="middle" fill="#231f20" >−2</text>
<line x1="433.8" y1="418.1" x2="433.8" y2="420.1" stroke="#231f20" stroke-width="0.8"/>
<text transform="translate(432.60,429.90) scale(0.985,1)" x="0" y="0" font-size="6.7" text-anchor="middle" fill="#231f20" >−3</text>
<line x1="443.9" y1="418.1" x2="443.9" y2="420.1" stroke="#231f20" stroke-width="0.8"/>
<text transform="translate(443.00,429.90) scale(0.985,1)" x="0" y="0" font-size="6.7" text-anchor="middle" fill="#231f20" >−4</text>
<line x1="454.0" y1="418.1" x2="454.0" y2="420.1" stroke="#231f20" stroke-width="0.8"/>
<text transform="translate(453.50,429.90) scale(0.985,1)" x="0" y="0" font-size="6.7" text-anchor="middle" fill="#231f20" >−5</text>
<text x="430.7" y="440.40000000000003" font-size="6.7" text-anchor="middle" fill="#231f20" class="a" textLength="40.4" lengthAdjust="spacingAndGlyphs"><tspan font-style="italic">P</tspan>-value (Log10)</text>
<line x1="401.3" y1="375.8" x2="403.5" y2="375.8" stroke="#231f20" stroke-width="0.8"/>
<rect x="403.5" y="373.5" width="26.16" height="4.6" fill="#164a88"/>
<text transform="translate(397.90,378.20) scale(0.985,1)" x="0" y="0" font-size="6.35" text-anchor="end" fill="#231f20" >IFNγ response</text>
<text transform="translate(478.70,378.20) scale(0.985,1)" x="0" y="0" font-size="6.35" text-anchor="end" fill="#231f20" >16.46</text>
<text transform="translate(487.50,378.20) scale(0.985,1)" x="0" y="0" font-size="6.35" text-anchor="start" fill="#231f20" >.0851</text>
<line x1="401.3" y1="385.2" x2="403.5" y2="385.2" stroke="#231f20" stroke-width="0.8"/>
<rect x="403.5" y="382.9" width="24.54" height="4.6" fill="#164a88"/>
<text transform="translate(397.90,387.60) scale(0.985,1)" x="0" y="0" font-size="6.35" text-anchor="end" fill="#231f20" >IFNα response</text>
<text transform="translate(478.70,387.60) scale(0.985,1)" x="0" y="0" font-size="6.35" text-anchor="end" fill="#231f20" >20.85</text>
<text transform="translate(487.50,387.60) scale(0.985,1)" x="0" y="0" font-size="6.35" text-anchor="start" fill="#231f20" >.0851</text>
<line x1="401.3" y1="394.5" x2="403.5" y2="394.5" stroke="#231f20" stroke-width="0.8"/>
<rect x="403.5" y="392.2" width="16.36" height="4.6" fill="#164a88"/>
<text transform="translate(397.90,396.90) scale(0.985,1)" x="0" y="0" font-size="6.35" text-anchor="end" fill="#231f20" >Heme metab</text>
<text transform="translate(478.70,396.90) scale(0.985,1)" x="0" y="0" font-size="6.35" text-anchor="end" fill="#231f20" >8.59</text>
<text transform="translate(487.50,396.90) scale(0.985,1)" x="0" y="0" font-size="6.35" text-anchor="start" fill="#231f20" >.3355</text>
<line x1="401.3" y1="403.9" x2="403.5" y2="403.9" stroke="#231f20" stroke-width="0.8"/>
<rect x="403.5" y="401.59999999999997" width="15.15" height="4.6" fill="#164a88"/>
<text transform="translate(397.90,406.30) scale(0.985,1)" x="0" y="0" font-size="6.35" text-anchor="end" fill="#231f20" >DNA repair</text>
<text transform="translate(478.70,406.30) scale(0.985,1)" x="0" y="0" font-size="6.35" text-anchor="end" fill="#231f20" >7.59</text>
<text transform="translate(487.50,406.30) scale(0.985,1)" x="0" y="0" font-size="6.35" text-anchor="start" fill="#231f20" >.3917</text>
<line x1="401.3" y1="413.3" x2="403.5" y2="413.3" stroke="#231f20" stroke-width="0.8"/>
<rect x="403.5" y="411.0" width="13.33" height="4.6" fill="#164a88"/>
<text transform="translate(397.90,415.70) scale(0.985,1)" x="0" y="0" font-size="6.35" text-anchor="end" fill="#231f20" >G2M checkpoint</text>
<text transform="translate(478.70,415.70) scale(0.985,1)" x="0" y="0" font-size="6.35" text-anchor="end" fill="#231f20" >5.81</text>
<text transform="translate(487.50,415.70) scale(0.985,1)" x="0" y="0" font-size="6.35" text-anchor="start" fill="#231f20" >.4041</text>
<text x="99.60" y="463.80" font-size="8.6" text-anchor="middle" fill="#231f20" textLength="115.20" lengthAdjust="spacingAndGlyphs" class="w">Upregulated IFN alpha response</text>
<text transform="translate(140.60,474.00) scale(0.985,1)" x="0" y="0" font-size="6.35" text-anchor="middle" fill="#231f20" >CS</text>
<text transform="translate(164.80,474.00) scale(0.985,1)" x="0" y="0" font-size="6.35" text-anchor="middle" fill="#231f20" >Adj <tspan font-style="italic">P</tspan></text>
<line x1="73.4" y1="480.2" x2="73.4" y2="523.1" stroke="#231f20" stroke-width="0.9"/>
<line x1="72.95" y1="523.1" x2="126.9" y2="523.1" stroke="#231f20" stroke-width="0.9"/>
<line x1="73.4" y1="523.1" x2="73.4" y2="525.1" stroke="#231f20" stroke-width="0.8"/>
<text transform="translate(73.10,534.10) scale(0.985,1)" x="0" y="0" font-size="6.7" text-anchor="middle" fill="#231f20" >0</text>
<line x1="83.5" y1="523.1" x2="83.5" y2="525.1" stroke="#231f20" stroke-width="0.8"/>
<text transform="translate(80.00,534.10) scale(0.985,1)" x="0" y="0" font-size="6.7" text-anchor="middle" fill="#231f20" >−1</text>
<line x1="93.60000000000001" y1="523.1" x2="93.60000000000001" y2="525.1" stroke="#231f20" stroke-width="0.8"/>
<text transform="translate(92.10,534.10) scale(0.985,1)" x="0" y="0" font-size="6.7" text-anchor="middle" fill="#231f20" >−2</text>
<line x1="103.7" y1="523.1" x2="103.7" y2="525.1" stroke="#231f20" stroke-width="0.8"/>
<text transform="translate(102.20,534.10) scale(0.985,1)" x="0" y="0" font-size="6.7" text-anchor="middle" fill="#231f20" >−3</text>
<line x1="113.80000000000001" y1="523.1" x2="113.80000000000001" y2="525.1" stroke="#231f20" stroke-width="0.8"/>
<text transform="translate(112.40,534.10) scale(0.985,1)" x="0" y="0" font-size="6.7" text-anchor="middle" fill="#231f20" >−4</text>
<line x1="123.9" y1="523.1" x2="123.9" y2="525.1" stroke="#231f20" stroke-width="0.8"/>
<text transform="translate(123.30,534.10) scale(0.985,1)" x="0" y="0" font-size="6.7" text-anchor="middle" fill="#231f20" >−5</text>
<text x="100.60000000000001" y="543.8000000000001" font-size="6.7" text-anchor="middle" fill="#231f20" class="a" textLength="40.4" lengthAdjust="spacingAndGlyphs"><tspan font-style="italic">P</tspan>-value (Log10)</text>
<line x1="71.2" y1="482.7" x2="73.4" y2="482.7" stroke="#231f20" stroke-width="0.8"/>
<rect x="73.4" y="480.3" width="1.31" height="4.8" fill="#164a88"/>
<text transform="translate(67.30,485.10) scale(0.985,1)" x="0" y="0" font-size="6.35" text-anchor="end" fill="#231f20" ><tspan font-style="italic">Nfat5</tspan> KO vs WT</text>
<text transform="translate(148.40,485.10) scale(0.985,1)" x="0" y="0" font-size="6.35" text-anchor="end" fill="#231f20" >0.34</text>
<text transform="translate(156.50,485.10) scale(0.985,1)" x="0" y="0" font-size="6.35" text-anchor="start" fill="#231f20" >.8906</text>
<line x1="71.2" y1="491.5" x2="73.4" y2="491.5" stroke="#231f20" stroke-width="0.8"/>
<rect x="73.4" y="489.1" width="0.40" height="4.8" fill="#164a88"/>
<text transform="translate(67.30,493.90) scale(0.985,1)" x="0" y="0" font-size="6.35" text-anchor="end" fill="#231f20" >DKO vs WT</text>
<text transform="translate(148.40,493.90) scale(0.985,1)" x="0" y="0" font-size="6.35" text-anchor="end" fill="#231f20" >0.39</text>
<text transform="translate(156.50,493.90) scale(0.985,1)" x="0" y="0" font-size="6.35" text-anchor="start" fill="#231f20" >.9654</text>
<line x1="71.2" y1="500.6" x2="73.4" y2="500.6" stroke="#231f20" stroke-width="0.8"/>
<rect x="73.4" y="498.20000000000005" width="10.61" height="4.8" fill="#164a88"/>
<text transform="translate(67.30,503.00) scale(0.985,1)" x="0" y="0" font-size="6.35" text-anchor="end" fill="#231f20" >WT vs <tspan font-style="italic">Ifnar1</tspan> KO</text>
<text transform="translate(148.40,503.00) scale(0.985,1)" x="0" y="0" font-size="6.35" text-anchor="end" fill="#231f20" >5.36</text>
<text transform="translate(156.50,503.00) scale(0.985,1)" x="0" y="0" font-size="6.35" text-anchor="start" fill="#231f20" >.4872</text>
<line x1="71.2" y1="509.3" x2="73.4" y2="509.3" stroke="#231f20" stroke-width="0.8"/>
<rect x="73.4" y="506.90000000000003" width="37.27" height="4.8" fill="#164a88"/>
<text transform="translate(67.30,511.70) scale(0.985,1)" x="0" y="0" font-size="6.35" text-anchor="end" fill="#231f20" ><tspan font-style="italic">Nfat5</tspan> KO vs <tspan font-style="italic">Ifnar1</tspan> KO</text>
<text transform="translate(148.40,511.70) scale(0.985,1)" x="0" y="0" font-size="6.35" text-anchor="end" fill="#231f20" >38.82</text>
<text transform="translate(156.50,511.70) scale(0.985,1)" x="0" y="0" font-size="6.35" text-anchor="start" fill="#231f20" >.0042</text>
<line x1="71.2" y1="518.1" x2="73.4" y2="518.1" stroke="#231f20" stroke-width="0.8"/>
<rect x="73.4" y="515.7" width="23.94" height="4.8" fill="#164a88"/>
<text transform="translate(67.30,520.50) scale(0.985,1)" x="0" y="0" font-size="6.35" text-anchor="end" fill="#231f20" ><tspan font-style="italic">Nfat5</tspan> KO vs DKO</text>
<text transform="translate(148.40,520.50) scale(0.985,1)" x="0" y="0" font-size="6.35" text-anchor="end" fill="#231f20" >20.85</text>
<text transform="translate(156.50,520.50) scale(0.985,1)" x="0" y="0" font-size="6.35" text-anchor="start" fill="#231f20" >.0851</text>
<text x="99.60" y="563.80" font-size="8.6" text-anchor="middle" fill="#231f20" textLength="122.20" lengthAdjust="spacingAndGlyphs" class="w">Upregulated IFN gamma response</text>
<text transform="translate(140.60,574.00) scale(0.985,1)" x="0" y="0" font-size="6.35" text-anchor="middle" fill="#231f20" >CS</text>
<text transform="translate(164.80,574.00) scale(0.985,1)" x="0" y="0" font-size="6.35" text-anchor="middle" fill="#231f20" >Adj <tspan font-style="italic">P</tspan></text>
<line x1="73.4" y1="580.2" x2="73.4" y2="623.1" stroke="#231f20" stroke-width="0.9"/>
<line x1="72.95" y1="623.1" x2="126.9" y2="623.1" stroke="#231f20" stroke-width="0.9"/>
<line x1="73.4" y1="623.1" x2="73.4" y2="625.1" stroke="#231f20" stroke-width="0.8"/>
<text transform="translate(73.10,634.10) scale(0.985,1)" x="0" y="0" font-size="6.7" text-anchor="middle" fill="#231f20" >0</text>
<line x1="83.5" y1="623.1" x2="83.5" y2="625.1" stroke="#231f20" stroke-width="0.8"/>
<text transform="translate(80.00,634.10) scale(0.985,1)" x="0" y="0" font-size="6.7" text-anchor="middle" fill="#231f20" >−1</text>
<line x1="93.60000000000001" y1="623.1" x2="93.60000000000001" y2="625.1" stroke="#231f20" stroke-width="0.8"/>
<text transform="translate(92.10,634.10) scale(0.985,1)" x="0" y="0" font-size="6.7" text-anchor="middle" fill="#231f20" >−2</text>
<line x1="103.7" y1="623.1" x2="103.7" y2="625.1" stroke="#231f20" stroke-width="0.8"/>
<text transform="translate(102.20,634.10) scale(0.985,1)" x="0" y="0" font-size="6.7" text-anchor="middle" fill="#231f20" >−3</text>
<line x1="113.80000000000001" y1="623.1" x2="113.80000000000001" y2="625.1" stroke="#231f20" stroke-width="0.8"/>
<text transform="translate(112.40,634.10) scale(0.985,1)" x="0" y="0" font-size="6.7" text-anchor="middle" fill="#231f20" >−4</text>
<line x1="123.9" y1="623.1" x2="123.9" y2="625.1" stroke="#231f20" stroke-width="0.8"/>
<text transform="translate(123.30,634.10) scale(0.985,1)" x="0" y="0" font-size="6.7" text-anchor="middle" fill="#231f20" >−5</text>
<text x="100.60000000000001" y="643.8000000000001" font-size="6.7" text-anchor="middle" fill="#231f20" class="a" textLength="40.4" lengthAdjust="spacingAndGlyphs"><tspan font-style="italic">P</tspan>-value (Log10)</text>
<line x1="71.2" y1="582.7" x2="73.4" y2="582.7" stroke="#231f20" stroke-width="0.8"/>
<rect x="73.4" y="580.3000000000001" width="4.65" height="4.8" fill="#164a88"/>
<text transform="translate(67.30,585.10) scale(0.985,1)" x="0" y="0" font-size="6.35" text-anchor="end" fill="#231f20" ><tspan font-style="italic">Nfat5</tspan> KO vs WT</text>
<text transform="translate(148.40,585.10) scale(0.985,1)" x="0" y="0" font-size="6.35" text-anchor="end" fill="#231f20" >1.35</text>
<text transform="translate(156.50,585.10) scale(0.985,1)" x="0" y="0" font-size="6.35" text-anchor="start" fill="#231f20" >.7159</text>
<line x1="71.2" y1="591.5" x2="73.4" y2="591.5" stroke="#231f20" stroke-width="0.8"/>
<rect x="73.4" y="589.1" width="3.23" height="4.8" fill="#164a88"/>
<text transform="translate(67.30,593.90) scale(0.985,1)" x="0" y="0" font-size="6.35" text-anchor="end" fill="#231f20" >DKO vs WT</text>
<text transform="translate(148.40,593.90) scale(0.985,1)" x="0" y="0" font-size="6.35" text-anchor="end" fill="#231f20" >0.98</text>
<text transform="translate(156.50,593.90) scale(0.985,1)" x="0" y="0" font-size="6.35" text-anchor="start" fill="#231f20" >.7164</text>
<line x1="71.2" y1="600.6" x2="73.4" y2="600.6" stroke="#231f20" stroke-width="0.8"/>
<rect x="73.4" y="598.2" width="16.56" height="4.8" fill="#164a88"/>
<text transform="translate(67.30,603.00) scale(0.985,1)" x="0" y="0" font-size="6.35" text-anchor="end" fill="#231f20" >WT vs <tspan font-style="italic">Ifnar1</tspan> KO</text>
<text transform="translate(148.40,603.00) scale(0.985,1)" x="0" y="0" font-size="6.35" text-anchor="end" fill="#231f20" >7.90</text>
<text transform="translate(156.50,603.00) scale(0.985,1)" x="0" y="0" font-size="6.35" text-anchor="start" fill="#231f20" >.2155</text>
<line x1="71.2" y1="609.3" x2="73.4" y2="609.3" stroke="#231f20" stroke-width="0.8"/>
<rect x="73.4" y="606.9" width="47.87" height="4.8" fill="#164a88"/>
<text transform="translate(67.30,611.70) scale(0.985,1)" x="0" y="0" font-size="6.35" text-anchor="end" fill="#231f20" ><tspan font-style="italic">Nfat5</tspan> KO vs <tspan font-style="italic">Ifnar1</tspan> KO</text>
<text transform="translate(148.40,611.70) scale(0.985,1)" x="0" y="0" font-size="6.35" text-anchor="end" fill="#231f20" >40.80</text>
<text transform="translate(156.50,611.70) scale(0.985,1)" x="0" y="0" font-size="6.35" text-anchor="start" fill="#231f20" >.0007</text>
<line x1="71.2" y1="618.1" x2="73.4" y2="618.1" stroke="#231f20" stroke-width="0.8"/>
<rect x="73.4" y="615.7" width="24.85" height="4.8" fill="#164a88"/>
<text transform="translate(67.30,620.50) scale(0.985,1)" x="0" y="0" font-size="6.35" text-anchor="end" fill="#231f20" ><tspan font-style="italic">Nfat5</tspan> KO vs DKO</text>
<text transform="translate(148.40,620.50) scale(0.985,1)" x="0" y="0" font-size="6.35" text-anchor="end" fill="#231f20" >16.46</text>
<text transform="translate(156.50,620.50) scale(0.985,1)" x="0" y="0" font-size="6.35" text-anchor="start" fill="#231f20" >.0851</text>
<text x="213.50" y="464.60" font-size="8.6" text-anchor="start" fill="#231f20" textLength="202.80" lengthAdjust="spacingAndGlyphs" class="w">IFN response genes (MSigDB and Interferome database)</text>
<path d="M202.6 474 V471.1 H428 V473.6" fill="none" stroke="#231f20" stroke-width="0.8"/>
<text transform="translate(207.6,498.6) rotate(-90) scale(0.9,1)" font-size="6.4" font-style="italic" fill="#333" style="stroke:#333;stroke-width:.15px">Pbl1</text>
<text transform="translate(215.6,498.6) rotate(-90) scale(0.9,1)" font-size="6.4" font-style="italic" fill="#333" style="stroke:#333;stroke-width:.15px">Ifnar2</text>
<text transform="translate(223.5,498.6) rotate(-90) scale(0.9,1)" font-size="6.4" font-style="italic" fill="#333" style="stroke:#333;stroke-width:.15px">Csf2rb</text>
<text transform="translate(231.5,498.6) rotate(-90) scale(0.9,1)" font-size="6.4" font-style="italic" fill="#333" style="stroke:#333;stroke-width:.15px">Tnfaip3</text>
<text transform="translate(239.5,498.6) rotate(-90) scale(0.9,1)" font-size="6.4" font-style="italic" fill="#333" style="stroke:#333;stroke-width:.15px">Dnaj2</text>
<text transform="translate(247.4,498.6) rotate(-90) scale(0.9,1)" font-size="6.4" font-style="italic" fill="#333" style="stroke:#333;stroke-width:.15px">Sorbs1</text>
<text transform="translate(255.4,498.6) rotate(-90) scale(0.9,1)" font-size="6.4" font-style="italic" fill="#333" style="stroke:#333;stroke-width:.15px">Limk2</text>
<text transform="translate(263.4,498.6) rotate(-90) scale(0.9,1)" font-size="6.4" font-style="italic" fill="#333" style="stroke:#333;stroke-width:.15px">Sell</text>
<text transform="translate(271.4,498.6) rotate(-90) scale(0.9,1)" font-size="6.4" font-style="italic" fill="#333" style="stroke:#333;stroke-width:.15px">Rev3l</text>
<text transform="translate(279.3,498.6) rotate(-90) scale(0.9,1)" font-size="6.4" font-style="italic" fill="#333" style="stroke:#333;stroke-width:.15px">Mov10</text>
<text transform="translate(287.3,498.6) rotate(-90) scale(0.9,1)" font-size="6.4" font-style="italic" fill="#333" style="stroke:#333;stroke-width:.15px">Irf9</text>
<text transform="translate(295.3,498.6) rotate(-90) scale(0.9,1)" font-size="6.4" font-style="italic" fill="#333" style="stroke:#333;stroke-width:.15px">Plac8</text>
<text transform="translate(303.2,498.6) rotate(-90) scale(0.9,1)" font-size="6.4" font-style="italic" fill="#333" style="stroke:#333;stroke-width:.15px">Il27</text>
<text transform="translate(311.2,498.6) rotate(-90) scale(0.9,1)" font-size="6.4" font-style="italic" fill="#333" style="stroke:#333;stroke-width:.15px">Gpr107</text>
<text transform="translate(319.2,498.6) rotate(-90) scale(0.9,1)" font-size="6.4" font-style="italic" fill="#333" style="stroke:#333;stroke-width:.15px">Ifit2</text>
<text transform="translate(327.2,498.6) rotate(-90) scale(0.9,1)" font-size="6.4" font-style="italic" fill="#333" style="stroke:#333;stroke-width:.15px">Gbp6</text>
<text transform="translate(335.1,498.6) rotate(-90) scale(0.9,1)" font-size="6.4" font-style="italic" fill="#333" style="stroke:#333;stroke-width:.15px">Rbbp9</text>
<text transform="translate(343.1,498.6) rotate(-90) scale(0.9,1)" font-size="6.4" font-style="italic" fill="#333" style="stroke:#333;stroke-width:.15px">Shc1</text>
<text transform="translate(351.1,498.6) rotate(-90) scale(0.9,1)" font-size="6.4" font-style="italic" fill="#333" style="stroke:#333;stroke-width:.15px">Dnajc30</text>
<text transform="translate(359.1,498.6) rotate(-90) scale(0.9,1)" font-size="6.4" font-style="italic" fill="#333" style="stroke:#333;stroke-width:.15px">Rbp1</text>
<text transform="translate(367.0,498.6) rotate(-90) scale(0.9,1)" font-size="6.4" font-style="italic" fill="#333" style="stroke:#333;stroke-width:.15px">Cdca5</text>
<text transform="translate(375.0,498.6) rotate(-90) scale(0.9,1)" font-size="6.4" font-style="italic" fill="#333" style="stroke:#333;stroke-width:.15px">Tbl2</text>
<text transform="translate(383.0,498.6) rotate(-90) scale(0.9,1)" font-size="6.4" font-style="italic" fill="#333" style="stroke:#333;stroke-width:.15px">Gsdd3</text>
<text transform="translate(390.9,498.6) rotate(-90) scale(0.9,1)" font-size="6.4" font-style="italic" fill="#333" style="stroke:#333;stroke-width:.15px">Rtp4</text>
<text transform="translate(398.9,498.6) rotate(-90) scale(0.9,1)" font-size="6.4" font-style="italic" fill="#333" style="stroke:#333;stroke-width:.15px">Sike1</text>
<text transform="translate(406.9,498.6) rotate(-90) scale(0.9,1)" font-size="6.4" font-style="italic" fill="#333" style="stroke:#333;stroke-width:.15px">Ifi1</text>
<text transform="translate(414.9,498.6) rotate(-90) scale(0.9,1)" font-size="6.4" font-style="italic" fill="#333" style="stroke:#333;stroke-width:.15px">Cmtr1</text>
<text transform="translate(422.8,498.6) rotate(-90) scale(0.9,1)" font-size="6.4" font-style="italic" fill="#333" style="stroke:#333;stroke-width:.15px">Dagla</text>
<text transform="translate(430.8,498.6) rotate(-90) scale(0.9,1)" font-size="6.4" font-style="italic" fill="#333" style="stroke:#333;stroke-width:.15px">Irf5</text>
<rect x="201.60" y="502.60" width="8.67" height="22.18" fill="#c8202f"/>
<rect x="209.57" y="502.60" width="8.67" height="22.18" fill="#c8202f"/>
<rect x="217.54" y="502.60" width="8.67" height="22.18" fill="#d5414f"/>
<rect x="225.52" y="502.60" width="8.67" height="22.18" fill="#d4505c"/>
<rect x="233.49" y="502.60" width="8.67" height="22.18" fill="#d65a66"/>
<rect x="241.46" y="502.60" width="8.67" height="22.18" fill="#e58a95"/>
<rect x="249.43" y="502.60" width="8.67" height="22.18" fill="#e7919b"/>
<rect x="257.40" y="502.60" width="8.67" height="22.18" fill="#e8939d"/>
<rect x="265.38" y="502.60" width="8.67" height="22.18" fill="#e8949e"/>
<rect x="273.35" y="502.60" width="8.67" height="22.18" fill="#e9979f"/>
<rect x="281.32" y="502.60" width="8.67" height="22.18" fill="#ea9aa4"/>
<rect x="289.29" y="502.60" width="8.67" height="22.18" fill="#eb9ea7"/>
<rect x="297.26" y="502.60" width="8.67" height="22.18" fill="#eca2ab"/>
<rect x="305.24" y="502.60" width="8.67" height="22.18" fill="#eea9b1"/>
<rect x="313.21" y="502.60" width="8.67" height="22.18" fill="#f0b3ba"/>
<rect x="321.18" y="502.60" width="8.67" height="22.18" fill="#f0b5bc"/>
<rect x="329.15" y="502.60" width="8.67" height="22.18" fill="#f1b9c0"/>
<rect x="337.12" y="502.60" width="8.67" height="22.18" fill="#f1bcc3"/>
<rect x="345.10" y="502.60" width="8.67" height="22.18" fill="#f4c8cd"/>
<rect x="353.07" y="502.60" width="8.67" height="22.18" fill="#fbeff1"/>
<rect x="361.04" y="502.60" width="8.67" height="22.18" fill="#ffffff"/>
<rect x="369.01" y="502.60" width="8.67" height="22.18" fill="#ffffff"/>
<rect x="376.98" y="502.60" width="8.67" height="22.18" fill="#ffffff"/>
<rect x="384.96" y="502.60" width="8.67" height="22.18" fill="#e1e5f0"/>
<rect x="392.93" y="502.60" width="8.67" height="22.18" fill="#d3d9e8"/>
<rect x="400.90" y="502.60" width="8.67" height="22.18" fill="#d3d9e8"/>
<rect x="408.87" y="502.60" width="8.67" height="22.18" fill="#cdd4e6"/>
<rect x="416.84" y="502.60" width="8.67" height="22.18" fill="#bac3dc"/>
<rect x="424.82" y="502.60" width="8.67" height="22.18" fill="#a9b4d3"/>
<rect x="201.60" y="524.08" width="8.67" height="22.18" fill="#f5d0d5"/>
<rect x="209.57" y="524.08" width="8.67" height="22.18" fill="#e79aa3"/>
<rect x="217.54" y="524.08" width="8.67" height="22.18" fill="#ffffff"/>
<rect x="225.52" y="524.08" width="8.67" height="22.18" fill="#c8d0e2"/>
<rect x="233.49" y="524.08" width="8.67" height="22.18" fill="#c8d0e2"/>
<rect x="241.46" y="524.08" width="8.67" height="22.18" fill="#98a8cc"/>
<rect x="249.43" y="524.08" width="8.67" height="22.18" fill="#98a8cc"/>
<rect x="257.40" y="524.08" width="8.67" height="22.18" fill="#8fa0c8"/>
<rect x="265.38" y="524.08" width="8.67" height="22.18" fill="#8fa0c8"/>
<rect x="273.35" y="524.08" width="8.67" height="22.18" fill="#95a5ca"/>
<rect x="281.32" y="524.08" width="8.67" height="22.18" fill="#4d67a4"/>
<rect x="289.29" y="524.08" width="8.67" height="22.18" fill="#7388ba"/>
<rect x="297.26" y="524.08" width="8.67" height="22.18" fill="#4d67a4"/>
<rect x="305.24" y="524.08" width="8.67" height="22.18" fill="#8a9cc6"/>
<rect x="313.21" y="524.08" width="8.67" height="22.18" fill="#a8b5d5"/>
<rect x="321.18" y="524.08" width="8.67" height="22.18" fill="#4d67a4"/>
<rect x="329.15" y="524.08" width="8.67" height="22.18" fill="#8ea0c8"/>
<rect x="337.12" y="524.08" width="8.67" height="22.18" fill="#9eacd0"/>
<rect x="345.10" y="524.08" width="8.67" height="22.18" fill="#93a3cb"/>
<rect x="353.07" y="524.08" width="8.67" height="22.18" fill="#7a8ebf"/>
<rect x="361.04" y="524.08" width="8.67" height="22.18" fill="#7a8ebf"/>
<rect x="369.01" y="524.08" width="8.67" height="22.18" fill="#3a5494"/>
<rect x="376.98" y="524.08" width="8.67" height="22.18" fill="#354f90"/>
<rect x="384.96" y="524.08" width="8.67" height="22.18" fill="#24397a"/>
<rect x="392.93" y="524.08" width="8.67" height="22.18" fill="#283e7f"/>
<rect x="400.90" y="524.08" width="8.67" height="22.18" fill="#24397a"/>
<rect x="408.87" y="524.08" width="8.67" height="22.18" fill="#3a5494"/>
<rect x="416.84" y="524.08" width="8.67" height="22.18" fill="#24397a"/>
<rect x="424.82" y="524.08" width="8.67" height="22.18" fill="#283e7f"/>
<rect x="201.60" y="545.56" width="8.67" height="22.18" fill="#4a68a5"/>
<rect x="209.57" y="545.56" width="8.67" height="22.18" fill="#4a68a5"/>
<rect x="217.54" y="545.56" width="8.67" height="22.18" fill="#5070a8"/>
<rect x="225.52" y="545.56" width="8.67" height="22.18" fill="#d9505c"/>
<rect x="233.49" y="545.56" width="8.67" height="22.18" fill="#7d90bd"/>
<rect x="241.46" y="545.56" width="8.67" height="22.18" fill="#e06a76"/>
<rect x="249.43" y="545.56" width="8.67" height="22.18" fill="#f6d5da"/>
<rect x="257.40" y="545.56" width="8.67" height="22.18" fill="#ffffff"/>
<rect x="265.38" y="545.56" width="8.67" height="22.18" fill="#ffffff"/>
<rect x="273.35" y="545.56" width="8.67" height="22.18" fill="#dd5a66"/>
<rect x="281.32" y="545.56" width="8.67" height="22.18" fill="#e06570"/>
<rect x="289.29" y="545.56" width="8.67" height="22.18" fill="#dce2ee"/>
<rect x="297.26" y="545.56" width="8.67" height="22.18" fill="#ec9aa3"/>
<rect x="305.24" y="545.56" width="8.67" height="22.18" fill="#ffffff"/>
<rect x="313.21" y="545.56" width="8.67" height="22.18" fill="#efa5ad"/>
<rect x="321.18" y="545.56" width="8.67" height="22.18" fill="#dc4f5b"/>
<rect x="329.15" y="545.56" width="8.67" height="22.18" fill="#d2daea"/>
<rect x="337.12" y="545.56" width="8.67" height="22.18" fill="#b0bcd8"/>
<rect x="345.10" y="545.56" width="8.67" height="22.18" fill="#cc2030"/>
<rect x="353.07" y="545.56" width="8.67" height="22.18" fill="#e5e8f2"/>
<rect x="361.04" y="545.56" width="8.67" height="22.18" fill="#f7dde0"/>
<rect x="369.01" y="545.56" width="8.67" height="22.18" fill="#e3e7f1"/>
<rect x="376.98" y="545.56" width="8.67" height="22.18" fill="#ffffff"/>
<rect x="384.96" y="545.56" width="8.67" height="22.18" fill="#cc2030"/>
<rect x="392.93" y="545.56" width="8.67" height="22.18" fill="#ffffff"/>
<rect x="400.90" y="545.56" width="8.67" height="22.18" fill="#dd5c68"/>
<rect x="408.87" y="545.56" width="8.67" height="22.18" fill="#f1b7be"/>
<rect x="416.84" y="545.56" width="8.67" height="22.18" fill="#d33a47"/>
<rect x="424.82" y="545.56" width="8.67" height="22.18" fill="#e58590"/>
<rect x="201.60" y="567.04" width="8.67" height="22.18" fill="#f2b5bc"/>
<rect x="209.57" y="567.04" width="8.67" height="22.18" fill="#f0a8b0"/>
<rect x="217.54" y="567.04" width="8.67" height="22.18" fill="#ffffff"/>
<rect x="225.52" y="567.04" width="8.67" height="22.18" fill="#c81e2c"/>
<rect x="233.49" y="567.04" width="8.67" height="22.18" fill="#fbeaec"/>
<rect x="241.46" y="567.04" width="8.67" height="22.18" fill="#d02b38"/>
<rect x="249.43" y="567.04" width="8.67" height="22.18" fill="#e27380"/>
<rect x="257.40" y="567.04" width="8.67" height="22.18" fill="#f0a9b1"/>
<rect x="265.38" y="567.04" width="8.67" height="22.18" fill="#eea0a8"/>
<rect x="273.35" y="567.04" width="8.67" height="22.18" fill="#c91e2c"/>
<rect x="281.32" y="567.04" width="8.67" height="22.18" fill="#d02a38"/>
<rect x="289.29" y="567.04" width="8.67" height="22.18" fill="#fbe5e8"/>
<rect x="297.26" y="567.04" width="8.67" height="22.18" fill="#d33845"/>
<rect x="305.24" y="567.04" width="8.67" height="22.18" fill="#f8dde1"/>
<rect x="313.21" y="567.04" width="8.67" height="22.18" fill="#da4b58"/>
<rect x="321.18" y="567.04" width="8.67" height="22.18" fill="#d02a38"/>
<rect x="329.15" y="567.04" width="8.67" height="22.18" fill="#ffffff"/>
<rect x="337.12" y="567.04" width="8.67" height="22.18" fill="#eef1f7"/>
<rect x="345.10" y="567.04" width="8.67" height="22.18" fill="#cc2030"/>
<rect x="353.07" y="567.04" width="8.67" height="22.18" fill="#e3e7f1"/>
<rect x="361.04" y="567.04" width="8.67" height="22.18" fill="#f5d0d5"/>
<rect x="369.01" y="567.04" width="8.67" height="22.18" fill="#e3e7f1"/>
<rect x="376.98" y="567.04" width="8.67" height="22.18" fill="#ffffff"/>
<rect x="384.96" y="567.04" width="8.67" height="22.18" fill="#cc2030"/>
<rect x="392.93" y="567.04" width="8.67" height="22.18" fill="#cdd5e7"/>
<rect x="400.90" y="567.04" width="8.67" height="22.18" fill="#f3c0c6"/>
<rect x="408.87" y="567.04" width="8.67" height="22.18" fill="#ffffff"/>
<rect x="416.84" y="567.04" width="8.67" height="22.18" fill="#e27783"/>
<rect x="424.82" y="567.04" width="8.67" height="22.18" fill="#fbf5f6"/>
<rect x="201.60" y="588.52" width="8.67" height="22.18" fill="#d22a38"/>
<rect x="209.57" y="588.52" width="8.67" height="22.18" fill="#d5424f"/>
<rect x="217.54" y="588.52" width="8.67" height="22.18" fill="#d5424f"/>
<rect x="225.52" y="588.52" width="8.67" height="22.18" fill="#d5424f"/>
<rect x="233.49" y="588.52" width="8.67" height="22.18" fill="#d44150"/>
<rect x="241.46" y="588.52" width="8.67" height="22.18" fill="#d5424f"/>
<rect x="249.43" y="588.52" width="8.67" height="22.18" fill="#d64552"/>
<rect x="257.40" y="588.52" width="8.67" height="22.18" fill="#d74a57"/>
<rect x="265.38" y="588.52" width="8.67" height="22.18" fill="#d33e4b"/>
<rect x="273.35" y="588.52" width="8.67" height="22.18" fill="#d33e4b"/>
<rect x="281.32" y="588.52" width="8.67" height="22.18" fill="#c92634"/>
<rect x="289.29" y="588.52" width="8.67" height="22.18" fill="#cd2d3b"/>
<rect x="297.26" y="588.52" width="8.67" height="22.18" fill="#ce3441"/>
<rect x="305.24" y="588.52" width="8.67" height="22.18" fill="#d4404d"/>
<rect x="313.21" y="588.52" width="8.67" height="22.18" fill="#d95563"/>
<rect x="321.18" y="588.52" width="8.67" height="22.18" fill="#c8202f"/>
<rect x="329.15" y="588.52" width="8.67" height="22.18" fill="#d84a57"/>
<rect x="337.12" y="588.52" width="8.67" height="22.18" fill="#db5a66"/>
<rect x="345.10" y="588.52" width="8.67" height="22.18" fill="#db5864"/>
<rect x="353.07" y="588.52" width="8.67" height="22.18" fill="#db5864"/>
<rect x="361.04" y="588.52" width="8.67" height="22.18" fill="#db5864"/>
<rect x="369.01" y="588.52" width="8.67" height="22.18" fill="#d33a47"/>
<rect x="376.98" y="588.52" width="8.67" height="22.18" fill="#d33a47"/>
<rect x="384.96" y="588.52" width="8.67" height="22.18" fill="#c81c2c"/>
<rect x="392.93" y="588.52" width="8.67" height="22.18" fill="#d84b58"/>
<rect x="400.90" y="588.52" width="8.67" height="22.18" fill="#d43e4b"/>
<rect x="408.87" y="588.52" width="8.67" height="22.18" fill="#de6470"/>
<rect x="416.84" y="588.52" width="8.67" height="22.18" fill="#d94f5c"/>
<rect x="424.82" y="588.52" width="8.67" height="22.18" fill="#e06a76"/>
<text transform="translate(436.40,512.04) scale(0.985,1)" x="0" y="0" font-size="6.35" text-anchor="start" fill="#231f20" ><tspan font-style="italic">Nfat5</tspan> KO</text>
<text transform="translate(436.40,519.74) scale(0.985,1)" x="0" y="0" font-size="6.35" text-anchor="start" fill="#231f20" >vs WT</text>
<text transform="translate(436.40,533.52) scale(0.985,1)" x="0" y="0" font-size="6.35" text-anchor="start" fill="#231f20" >DKO</text>
<text transform="translate(436.40,541.22) scale(0.985,1)" x="0" y="0" font-size="6.35" text-anchor="start" fill="#231f20" >vs WT</text>
<text transform="translate(436.40,555.00) scale(0.985,1)" x="0" y="0" font-size="6.35" text-anchor="start" fill="#231f20" >WT vs</text>
<text transform="translate(436.40,562.70) scale(0.985,1)" x="0" y="0" font-size="6.35" text-anchor="start" fill="#231f20" ><tspan font-style="italic">Ifnar1</tspan> KO</text>
<text transform="translate(436.40,576.48) scale(0.985,1)" x="0" y="0" font-size="6.35" text-anchor="start" fill="#231f20" ><tspan font-style="italic">Nfat5</tspan> KO vs</text>
<text transform="translate(436.40,584.18) scale(0.985,1)" x="0" y="0" font-size="6.35" text-anchor="start" fill="#231f20" ><tspan font-style="italic">Ifnar1</tspan> KO</text>
<text transform="translate(436.40,597.96) scale(0.985,1)" x="0" y="0" font-size="6.35" text-anchor="start" fill="#231f20" ><tspan font-style="italic">Nfat5</tspan> KO</text>
<text transform="translate(436.40,605.66) scale(0.985,1)" x="0" y="0" font-size="6.35" text-anchor="start" fill="#231f20" >vs DKO</text>
<rect x="291.90" y="616.7" width="6.3" height="7.7" fill="#1e2f6b"/>
<rect x="297.98" y="616.7" width="6.3" height="7.7" fill="#3e5898"/>
<rect x="304.06" y="616.7" width="6.3" height="7.7" fill="#8597c4"/>
<rect x="310.14" y="616.7" width="6.3" height="7.7" fill="#c8d1e6"/>
<rect x="322.30" y="616.7" width="6.2" height="7.7" fill="#f6c6cc"/>
<rect x="328.30" y="616.7" width="6.2" height="7.7" fill="#e98a95"/>
<rect x="334.30" y="616.7" width="6.2" height="7.7" fill="#d7404f"/>
<rect x="340.30" y="616.7" width="6.2" height="7.7" fill="#c4101f"/>
<text transform="translate(285.80,623.00) scale(0.985,1)" x="0" y="0" font-size="6.35" text-anchor="middle" fill="#231f20" >−2</text>
<text transform="translate(351.50,623.00) scale(0.985,1)" x="0" y="0" font-size="6.35" text-anchor="middle" fill="#231f20" >2</text>
<text transform="translate(319.40,632.60) scale(0.985,1)" x="0" y="0" font-size="6.35" text-anchor="middle" fill="#231f20" >Differential</text>
<text transform="translate(319.40,640.90) scale(0.985,1)" x="0" y="0" font-size="6.35" text-anchor="middle" fill="#231f20" >expression (FC Log2)</text>
</svg>
</body></html>
